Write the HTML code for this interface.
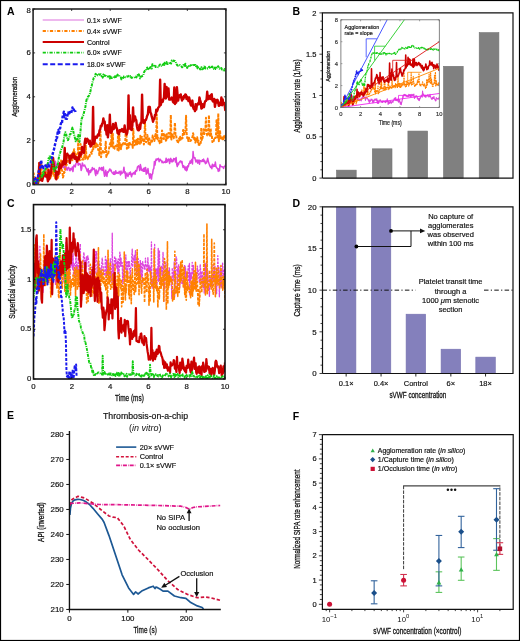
<!DOCTYPE html>
<html><head><meta charset="utf-8"><style>
html,body{margin:0;padding:0;background:#fff;}
body{width:520px;height:641px;overflow:hidden;}
svg{display:block;font-family:"Liberation Sans", sans-serif;will-change:transform;}
</style></head><body>
<svg width="520" height="641" viewBox="0 0 520 641" font-family='"Liberation Sans", sans-serif'>
<rect x="0.00" y="0.00" width="520.00" height="641.00" fill="#ffffff"/>
<defs><clipPath id="clipA"><rect x="33.1" y="9.0" width="192.80" height="175.60"/></clipPath><clipPath id="clipC"><rect x="33.5" y="204.6" width="191.50" height="174.40"/></clipPath><clipPath id="clipI"><rect x="340.9" y="19.8" width="98.40" height="87.70"/></clipPath></defs>
<text x="7.00" y="14.70" font-size="10.5" text-anchor="start" fill="#000" font-weight="bold">A</text>
<g clip-path="url(#clipA)">
<polyline points="33.10,179.59 33.69,179.35 34.27,179.47 34.86,182.05 35.44,178.30 36.03,177.71 36.62,180.98 37.20,177.58 37.79,178.81 38.37,178.16 38.96,179.52 39.55,179.70 40.13,179.91 40.72,178.32 41.30,177.73 41.89,176.44 42.48,176.56 43.06,175.86 43.65,176.52 44.23,176.83 44.82,175.49 45.41,174.82 45.99,170.74 46.58,171.74 47.16,177.36 47.75,175.14 48.34,171.98 48.92,172.69 49.51,171.37 50.09,170.10 50.68,166.94 51.27,170.81 51.85,168.77 52.44,162.25 53.02,163.57 53.61,163.95 54.20,164.09 54.78,165.58 55.37,161.28 55.95,163.66 56.54,167.17 57.13,164.78 57.71,165.26 58.30,168.44 58.88,168.36 59.47,166.49 60.06,167.00 60.64,168.76 61.23,166.00 61.81,163.79 62.40,165.32 62.99,167.52 63.57,165.13 64.16,167.97 64.74,165.87 65.33,169.73 65.92,166.02 66.50,169.03 67.09,170.28 67.68,168.16 68.26,167.35 68.85,167.66 69.43,170.12 70.02,170.72 70.61,168.50 71.19,169.77 71.78,168.78 72.36,166.91 72.95,171.53 73.54,166.88 74.12,165.09 74.71,166.03 75.29,166.90 75.88,163.75 76.47,162.50 77.05,160.20 77.64,160.97 78.22,165.23 78.81,163.51 79.40,164.18 79.98,163.73 80.57,165.45 81.15,170.49 81.74,168.54 82.33,162.96 82.91,164.56 83.50,166.02 84.08,165.59 84.67,165.10 85.26,166.74 85.84,167.76 86.43,168.93 87.01,170.95 87.60,171.71 88.19,168.66 88.77,174.95 89.36,170.94 89.94,170.81 90.53,172.60 91.12,169.62 91.70,170.78 92.29,167.52 92.87,169.52 93.46,168.81 94.05,168.39 94.63,169.42 95.22,173.51 95.80,175.46 96.39,169.91 96.98,173.12 97.56,173.72 98.15,171.29 98.73,170.46 99.32,167.55 99.91,168.84 100.49,168.31 101.08,169.75 101.66,167.55 102.25,170.56 102.84,168.41 103.42,166.98 104.01,173.09 104.59,176.28 105.18,172.85 105.77,170.35 106.35,175.53 106.94,176.35 107.52,171.85 108.11,172.39 108.70,171.40 109.28,169.93 109.87,168.93 110.45,170.68 111.04,170.00 111.63,171.77 112.21,172.94 112.80,173.03 113.38,174.30 113.97,171.82 114.56,174.37 115.14,174.11 115.73,170.65 116.31,173.18 116.90,173.05 117.49,172.43 118.07,173.46 118.66,172.91 119.24,171.37 119.83,172.15 120.42,174.96 121.00,171.08 121.59,173.65 122.17,173.25 122.76,172.71 123.35,171.09 123.93,167.15 124.52,172.97 125.10,171.59 125.69,178.30 126.28,174.50 126.86,172.97 127.45,175.77 128.03,176.37 128.62,174.68 129.21,172.79 129.79,174.24 130.38,172.03 130.97,174.79 131.55,176.74 132.14,173.67 132.72,174.40 133.31,172.85 133.90,173.57 134.48,171.96 135.07,174.37 135.65,170.50 136.24,171.11 136.83,170.74 137.41,167.12 138.00,166.60 138.58,165.79 139.17,167.25 139.76,170.50 140.34,164.48 140.93,166.89 141.51,170.21 142.10,170.58 142.69,169.27 143.27,171.30 143.86,168.14 144.44,171.25 145.03,167.78 145.62,167.54 146.20,174.16 146.79,170.29 147.37,173.01 147.96,168.50 148.55,172.94 149.13,175.09 149.72,178.15 150.30,173.87 150.89,174.44 151.48,179.03 152.06,174.50 152.65,173.55 153.23,169.23 153.82,168.69 154.41,161.42 154.99,165.06 155.58,160.85 156.16,158.99 156.75,160.27 157.34,158.93 157.92,159.22 158.51,158.32 159.09,161.72 159.68,159.84 160.27,159.27 160.85,160.37 161.44,161.00 162.02,162.62 162.61,161.22 163.20,162.70 163.78,162.46 164.37,162.23 164.95,161.60 165.54,162.56 166.13,158.18 166.71,162.20 167.30,161.72 167.88,159.55 168.47,158.94 169.06,160.61 169.64,163.50 170.23,158.77 170.81,158.38 171.40,161.84 171.99,159.87 172.57,161.76 173.16,161.21 173.74,158.41 174.33,159.46 174.92,158.82 175.50,162.00 176.09,157.57 176.67,164.13 177.26,166.51 177.85,163.28 178.43,164.72 179.02,162.59 179.60,162.04 180.19,161.06 180.78,161.10 181.36,162.64 181.95,161.42 182.53,165.24 183.12,167.50 183.71,165.76 184.29,166.92 184.88,169.11 185.46,170.00 186.05,166.63 186.64,170.79 187.22,169.59 187.81,165.68 188.39,166.73 188.98,163.50 189.57,163.45 190.15,161.05 190.74,163.13 191.32,160.65 191.91,159.26 192.50,163.90 193.08,151.48 193.67,157.28 194.26,157.87 194.84,157.55 195.43,159.95 196.01,161.93 196.60,160.16 197.19,159.94 197.77,163.19 198.36,162.04 198.94,159.94 199.53,164.25 200.12,160.62 200.70,160.76 201.29,161.23 201.87,161.60 202.46,159.83 203.05,161.22 203.63,159.10 204.22,161.88 204.80,160.94 205.39,163.68 205.98,162.32 206.56,162.94 207.15,160.33 207.73,158.27 208.32,161.37 208.91,163.19 209.49,164.85 210.08,166.29 210.66,167.40 211.25,166.29 211.84,168.69 212.42,164.17 213.01,166.54 213.59,166.60 214.18,164.69 214.77,166.32 215.35,162.05 215.94,166.42 216.52,167.59 217.11,168.08 217.70,168.94 218.28,171.38 218.87,168.82 219.45,170.85 220.04,164.68 220.63,166.57 221.21,166.58 221.80,166.73 222.38,166.69 222.97,167.28 223.56,168.42 224.14,166.56 224.73,166.18 225.31,166.27 225.90,163.10" fill="none" stroke="#dd44dd" stroke-width="1.5" stroke-linejoin="round"/>
<polyline points="33.10,183.36 33.69,173.34 34.27,183.45 34.86,184.60 35.44,178.35 36.03,177.75 36.62,179.67 37.20,177.74 37.79,176.86 38.37,178.91 38.96,163.07 39.55,179.58 40.13,179.06 40.72,179.99 41.30,162.67 41.89,178.33 42.48,174.35 43.06,174.13 43.65,173.71 44.23,175.48 44.82,171.43 45.41,174.21 45.99,173.88 46.58,173.58 47.16,164.96 47.75,171.62 48.34,169.35 48.92,177.19 49.51,178.46 50.09,179.41 50.68,174.89 51.27,176.54 51.85,160.03 52.44,162.01 53.02,175.02 53.61,163.87 54.20,176.02 54.78,175.06 55.37,179.63 55.95,178.96 56.54,175.76 57.13,174.47 57.71,178.19 58.30,176.66 58.88,174.12 59.47,170.69 60.06,173.08 60.64,168.98 61.23,159.45 61.81,170.35 62.40,171.21 62.99,177.55 63.57,175.48 64.16,171.91 64.74,172.04 65.33,167.47 65.92,162.99 66.50,165.21 67.09,162.88 67.68,162.17 68.26,157.29 68.85,157.46 69.43,157.37 70.02,156.25 70.61,155.28 71.19,159.48 71.78,159.76 72.36,160.15 72.95,152.18 73.54,153.02 74.12,149.23 74.71,152.78 75.29,155.65 75.88,154.24 76.47,155.51 77.05,161.70 77.64,161.23 78.22,140.38 78.81,160.35 79.40,159.80 79.98,160.23 80.57,144.12 81.15,156.58 81.74,159.43 82.33,159.46 82.91,158.83 83.50,159.51 84.08,157.63 84.67,155.10 85.26,158.64 85.84,145.60 86.43,157.52 87.01,157.83 87.60,159.11 88.19,157.61 88.77,156.54 89.36,157.37 89.94,154.43 90.53,153.23 91.12,152.27 91.70,153.74 92.29,151.12 92.87,147.30 93.46,148.96 94.05,147.43 94.63,142.15 95.22,147.17 95.80,147.19 96.39,143.43 96.98,146.61 97.56,143.79 98.15,149.94 98.73,147.90 99.32,155.15 99.91,148.86 100.49,131.52 101.08,157.18 101.66,151.22 102.25,151.76 102.84,150.94 103.42,153.75 104.01,151.87 104.59,151.95 105.18,150.80 105.77,141.68 106.35,157.04 106.94,154.68 107.52,153.92 108.11,154.70 108.70,150.50 109.28,147.38 109.87,144.41 110.45,142.70 111.04,147.30 111.63,129.06 112.21,146.19 112.80,133.68 113.38,147.69 113.97,145.90 114.56,148.66 115.14,146.64 115.73,145.85 116.31,146.43 116.90,144.54 117.49,149.85 118.07,132.94 118.66,150.39 119.24,130.54 119.83,148.38 120.42,144.45 121.00,149.22 121.59,144.64 122.17,145.67 122.76,144.07 123.35,143.01 123.93,144.47 124.52,143.99 125.10,143.93 125.69,132.72 126.28,129.56 126.86,148.71 127.45,145.46 128.03,143.73 128.62,147.71 129.21,141.76 129.79,143.08 130.38,144.38 130.97,143.55 131.55,143.51 132.14,144.37 132.72,147.85 133.31,129.08 133.90,142.86 134.48,145.19 135.07,140.71 135.65,140.62 136.24,145.43 136.83,139.71 137.41,144.14 138.00,138.76 138.58,140.88 139.17,144.75 139.76,143.97 140.34,135.78 140.93,143.55 141.51,137.25 142.10,137.05 142.69,139.95 143.27,138.07 143.86,144.43 144.44,137.76 145.03,122.29 145.62,141.89 146.20,142.17 146.79,138.32 147.37,135.03 147.96,139.91 148.55,143.73 149.13,136.96 149.72,145.70 150.30,142.91 150.89,143.38 151.48,139.55 152.06,141.65 152.65,135.60 153.23,137.61 153.82,139.99 154.41,140.90 154.99,136.56 155.58,134.01 156.16,137.95 156.75,114.36 157.34,138.96 157.92,137.69 158.51,140.70 159.09,140.39 159.68,143.24 160.27,138.71 160.85,137.35 161.44,142.13 162.02,130.55 162.61,133.76 163.20,136.63 163.78,138.98 164.37,133.70 164.95,133.70 165.54,138.40 166.13,141.70 166.71,134.35 167.30,138.64 167.88,139.35 168.47,132.88 169.06,133.71 169.64,134.44 170.23,137.19 170.81,114.95 171.40,139.58 171.99,133.85 172.57,134.90 173.16,137.20 173.74,138.20 174.33,132.63 174.92,122.74 175.50,134.68 176.09,134.51 176.67,139.82 177.26,140.55 177.85,143.31 178.43,141.28 179.02,138.45 179.60,140.31 180.19,136.73 180.78,139.53 181.36,136.55 181.95,137.08 182.53,138.43 183.12,129.93 183.71,130.35 184.29,134.31 184.88,133.60 185.46,132.48 186.05,115.71 186.64,133.53 187.22,138.11 187.81,137.45 188.39,140.97 188.98,137.80 189.57,140.80 190.15,141.05 190.74,140.89 191.32,139.79 191.91,138.32 192.50,136.90 193.08,133.30 193.67,136.01 194.26,139.28 194.84,137.86 195.43,142.62 196.01,139.13 196.60,140.19 197.19,137.17 197.77,142.02 198.36,140.62 198.94,146.21 199.53,144.16 200.12,143.31 200.70,144.17 201.29,127.82 201.87,140.00 202.46,138.27 203.05,135.26 203.63,129.36 204.22,134.08 204.80,127.94 205.39,130.27 205.98,117.83 206.56,133.04 207.15,135.36 207.73,135.19 208.32,135.64 208.91,115.17 209.49,134.26 210.08,136.84 210.66,128.44 211.25,136.07 211.84,135.74 212.42,142.06 213.01,141.87 213.59,142.48 214.18,137.53 214.77,138.07 215.35,138.07 215.94,136.81 216.52,120.37 217.11,124.98 217.70,138.71 218.28,113.39 218.87,141.24 219.45,136.00 220.04,131.18 220.63,139.28 221.21,136.57 221.80,136.29 222.38,139.34 222.97,137.19 223.56,140.09 224.14,135.02 224.73,138.24 225.31,136.17 225.90,134.82" fill="none" stroke="#ff8000" stroke-width="2.0" stroke-dasharray="3 1.2" stroke-linejoin="round"/>
<polyline points="33.10,177.60 33.74,184.60 34.39,182.34 35.03,184.60 35.68,184.60 36.32,184.60 36.97,184.60 37.61,183.74 38.26,182.00 38.90,171.22 39.55,162.87 40.19,180.11 40.84,178.87 41.48,179.15 42.13,180.84 42.77,178.51 43.42,175.58 44.06,174.79 44.71,172.46 45.35,175.61 46.00,176.42 46.64,175.27 47.29,177.40 47.93,181.30 48.58,170.29 49.22,179.23 49.87,175.46 50.51,175.19 51.15,171.58 51.80,164.19 52.44,166.33 53.09,157.90 53.73,164.45 54.38,167.35 55.02,170.49 55.67,172.32 56.31,179.37 56.96,171.81 57.60,172.33 58.25,174.63 58.89,170.21 59.54,163.32 60.18,167.46 60.83,167.96 61.47,165.97 62.12,165.44 62.76,161.50 63.41,164.53 64.05,163.68 64.70,148.00 65.34,164.02 65.99,162.90 66.63,155.24 67.28,153.68 67.92,155.13 68.56,155.50 69.21,155.94 69.85,162.97 70.50,158.66 71.14,155.78 71.79,158.07 72.43,153.99 73.08,156.74 73.72,153.51 74.37,158.29 75.01,158.90 75.66,156.54 76.30,157.69 76.95,161.61 77.59,157.97 78.24,159.26 78.88,159.09 79.53,153.14 80.17,155.93 80.82,153.66 81.46,154.17 82.11,147.03 82.75,150.16 83.40,150.86 84.04,152.95 84.69,142.93 85.33,138.73 85.97,142.91 86.62,139.72 87.26,138.77 87.91,139.94 88.55,141.66 89.20,143.83 89.84,140.78 90.49,146.53 91.13,146.09 91.78,144.84 92.42,143.21 93.07,106.93 93.71,143.83 94.36,143.16 95.00,138.81 95.65,136.70 96.29,137.70 96.94,137.67 97.58,135.27 98.23,134.19 98.87,135.37 99.52,130.33 100.16,129.64 100.81,125.72 101.45,126.39 102.10,123.92 102.74,122.75 103.38,118.45 104.03,122.52 104.67,121.54 105.32,130.18 105.96,128.54 106.61,134.56 107.25,125.24 107.90,137.41 108.54,131.94 109.19,131.24 109.83,114.71 110.48,132.49 111.12,132.84 111.77,131.73 112.41,128.40 113.06,124.06 113.70,128.96 114.35,127.39 114.99,127.59 115.64,122.92 116.28,126.99 116.93,128.40 117.57,132.99 118.22,132.33 118.86,134.21 119.51,130.42 120.15,130.06 120.79,131.33 121.44,130.54 122.08,129.06 122.73,129.82 123.37,131.78 124.02,131.09 124.66,125.49 125.31,132.34 125.95,132.07 126.60,134.55 127.24,132.83 127.89,128.00 128.53,95.35 129.18,128.52 129.82,115.12 130.47,128.62 131.11,129.64 131.76,129.95 132.40,125.08 133.05,107.42 133.69,121.44 134.34,118.85 134.98,116.38 135.63,119.32 136.27,120.13 136.92,126.22 137.56,129.43 138.21,130.22 138.85,130.33 139.49,124.64 140.14,128.91 140.78,122.70 141.43,123.27 142.07,94.63 142.72,120.13 143.36,120.26 144.01,123.06 144.65,122.55 145.30,120.11 145.94,119.81 146.59,117.83 147.23,115.55 147.88,114.32 148.52,106.89 149.17,107.16 149.81,106.91 150.46,112.53 151.10,113.69 151.75,116.65 152.39,118.79 153.04,121.78 153.68,119.25 154.33,119.16 154.97,114.85 155.62,115.46 156.26,109.63 156.90,111.48 157.55,110.05 158.19,107.71 158.84,107.01 159.48,106.34 160.13,79.72 160.77,104.94 161.42,102.14 162.06,100.19 162.71,101.78 163.35,98.94 164.00,97.67 164.64,84.04 165.29,94.99 165.93,98.43 166.58,87.05 167.22,96.01 167.87,96.47 168.51,88.55 169.16,99.57 169.80,98.54 170.45,99.59 171.09,98.99 171.74,97.56 172.38,99.26 173.03,101.98 173.67,102.61 174.31,87.53 174.96,103.97 175.60,101.10 176.25,102.56 176.89,87.18 177.54,94.26 178.18,100.64 178.83,96.01 179.47,95.28 180.12,96.96 180.76,94.51 181.41,98.11 182.05,100.49 182.70,97.54 183.34,98.89 183.99,96.08 184.63,97.31 185.28,94.44 185.92,94.87 186.57,99.04 187.21,96.68 187.86,99.16 188.50,100.99 189.15,97.43 189.79,100.30 190.44,103.80 191.08,105.55 191.72,103.54 192.37,100.58 193.01,106.80 193.66,108.89 194.30,109.12 194.95,111.03 195.59,104.23 196.24,109.49 196.88,105.41 197.53,104.24 198.17,103.21 198.82,104.33 199.46,97.41 200.11,100.09 200.75,102.02 201.40,108.67 202.04,108.17 202.69,104.19 203.33,105.58 203.98,107.17 204.62,102.99 205.27,101.11 205.91,100.92 206.56,99.44 207.20,91.82 207.85,99.23 208.49,98.74 209.13,95.93 209.78,98.52 210.42,99.06 211.07,94.95 211.71,94.16 212.36,100.36 213.00,101.47 213.65,100.99 214.29,98.89 214.94,106.88 215.58,102.88 216.23,100.05 216.87,102.47 217.52,99.84 218.16,101.99 218.81,105.87 219.45,103.00 220.10,105.11 220.74,103.98 221.39,97.39 222.03,105.27 222.68,99.51 223.32,104.37 223.97,102.91 224.61,104.51 225.26,110.15 225.90,106.00" fill="none" stroke="#cc0000" stroke-width="2.4" stroke-linejoin="round"/>
<polyline points="33.10,181.63 33.74,181.26 34.39,179.68 35.03,181.01 35.68,182.70 36.32,181.41 36.97,181.67 37.61,180.41 38.26,181.32 38.90,179.43 39.55,178.15 40.19,176.82 40.84,176.25 41.48,175.66 42.13,176.59 42.77,172.27 43.42,174.58 44.06,171.05 44.71,171.26 45.35,169.45 46.00,168.15 46.64,166.80 47.29,164.93 47.93,162.83 48.58,158.31 49.22,158.84 49.87,155.12 50.51,157.33 51.15,158.34 51.80,161.25 52.44,161.89 53.09,164.60 53.73,169.93 54.38,171.07 55.02,170.03 55.67,168.66 56.31,166.88 56.96,167.55 57.60,165.35 58.25,161.26 58.89,157.53 59.54,154.46 60.18,152.75 60.83,150.42 61.47,148.70 62.12,147.57 62.76,145.09 63.41,143.22 64.05,138.03 64.70,134.40 65.34,132.18 65.99,133.06 66.63,136.59 67.28,138.64 67.92,140.16 68.56,139.09 69.21,137.85 69.85,134.32 70.50,134.26 71.14,131.78 71.79,129.68 72.43,127.59 73.08,129.51 73.72,133.68 74.37,135.55 75.01,138.18 75.66,141.35 76.30,139.71 76.95,139.77 77.59,136.98 78.24,134.94 78.88,140.44 79.53,141.88 80.17,134.07 80.82,127.55 81.46,119.30 82.11,118.02 82.75,115.69 83.40,114.98 84.04,112.17 84.69,109.67 85.33,107.02 85.97,103.05 86.62,99.55 87.26,99.97 87.91,96.75 88.55,96.42 89.20,95.14 89.84,93.68 90.49,91.00 91.13,87.40 91.78,85.66 92.42,82.42 93.07,80.31 93.71,77.91 94.36,77.04 95.00,76.41 95.65,73.85 96.29,74.66 96.94,75.91 97.58,75.37 98.23,75.53 98.87,74.30 99.52,74.76 100.16,74.38 100.81,74.25 101.45,76.03 102.10,75.64 102.74,77.65 103.38,74.60 104.03,75.97 104.67,75.29 105.32,75.89 105.96,76.01 106.61,76.72 107.25,76.55 107.90,77.06 108.54,77.57 109.19,76.05 109.83,78.53 110.48,76.40 111.12,77.78 111.77,78.01 112.41,77.21 113.06,77.23 113.70,78.22 114.35,77.56 114.99,76.98 115.64,75.29 116.28,77.07 116.93,76.19 117.57,74.64 118.22,75.26 118.86,74.85 119.51,76.31 120.15,76.78 120.79,77.26 121.44,79.34 122.08,77.43 122.73,76.62 123.37,77.87 124.02,76.32 124.66,76.41 125.31,77.23 125.95,77.06 126.60,76.48 127.24,76.58 127.89,76.63 128.53,75.87 129.18,75.39 129.82,75.31 130.47,77.33 131.11,77.04 131.76,77.89 132.40,77.67 133.05,77.81 133.69,77.34 134.34,77.35 134.98,76.53 135.63,76.50 136.27,77.44 136.92,76.21 137.56,74.96 138.21,75.75 138.85,74.40 139.49,76.37 140.14,78.37 140.78,77.12 141.43,76.33 142.07,76.33 142.72,75.78 143.36,75.30 144.01,72.22 144.65,71.14 145.30,70.11 145.94,70.28 146.59,68.39 147.23,67.62 147.88,70.17 148.52,68.97 149.17,69.30 149.81,68.13 150.46,67.10 151.10,67.74 151.75,68.53 152.39,64.18 153.04,64.84 153.68,65.79 154.33,66.58 154.97,65.82 155.62,67.02 156.26,66.55 156.90,66.74 157.55,66.99 158.19,67.15 158.84,67.07 159.48,65.11 160.13,64.47 160.77,65.10 161.42,65.59 162.06,66.26 162.71,64.87 163.35,64.03 164.00,66.02 164.64,62.76 165.29,64.79 165.93,63.28 166.58,62.09 167.22,63.97 167.87,64.09 168.51,63.60 169.16,63.19 169.80,64.20 170.45,62.99 171.09,63.59 171.74,60.59 172.38,61.07 173.03,61.17 173.67,60.49 174.31,60.91 174.96,60.94 175.60,61.87 176.25,63.84 176.89,64.77 177.54,65.42 178.18,65.57 178.83,65.06 179.47,64.93 180.12,65.21 180.76,65.54 181.41,66.29 182.05,67.29 182.70,66.60 183.34,65.07 183.99,65.13 184.63,66.02 185.28,63.78 185.92,66.10 186.57,65.98 187.21,67.85 187.86,65.72 188.50,65.98 189.15,64.95 189.79,65.80 190.44,65.51 191.08,65.21 191.72,64.04 192.37,64.83 193.01,66.02 193.66,64.92 194.30,65.06 194.95,64.94 195.59,64.95 196.24,67.06 196.88,65.95 197.53,68.36 198.17,67.32 198.82,67.84 199.46,67.67 200.11,69.27 200.75,69.37 201.40,67.20 202.04,67.86 202.69,69.22 203.33,68.22 203.98,67.88 204.62,65.62 205.27,68.49 205.91,68.29 206.56,68.81 207.20,68.74 207.85,68.35 208.49,68.30 209.13,66.69 209.78,67.66 210.42,66.73 211.07,66.68 211.71,68.19 212.36,66.62 213.00,68.84 213.65,68.97 214.29,69.36 214.94,67.52 215.58,68.99 216.23,68.50 216.87,67.51 217.52,67.88 218.16,66.18 218.81,67.42 219.45,68.65 220.10,68.42 220.74,68.93 221.39,68.05 222.03,69.57 222.68,69.63 223.32,70.37 223.97,70.37 224.61,69.01 225.26,70.76 225.90,67.85" fill="none" stroke="#11cc11" stroke-width="2.0" stroke-dasharray="3 1 1 1" stroke-linejoin="round"/>
<polyline points="33.10,179.32 33.71,180.28 34.33,177.45 34.94,177.64 35.56,178.72 36.17,183.12 36.79,183.90 37.40,181.11 38.02,176.54 38.63,171.98 39.25,170.20 39.86,169.22 40.48,166.49 41.09,160.18 41.71,164.16 42.32,168.50 42.94,166.80 43.55,168.36 44.17,166.74 44.78,166.09 45.39,166.10 46.01,164.40 46.62,166.51 47.24,167.30 47.85,165.33 48.47,164.40 49.08,167.92 49.70,164.26 50.31,164.11 50.93,160.90 51.54,160.27 52.16,156.02 52.77,153.67 53.39,150.78 54.00,149.39 54.62,146.30 55.23,143.61 55.84,141.25 56.46,137.01 57.07,137.87 57.69,132.08 58.30,130.19 58.92,134.11 59.53,128.70 60.15,128.38 60.76,124.13 61.38,122.13 61.99,123.12 62.61,116.66 63.22,114.85 63.84,111.71 64.45,116.71 65.07,114.22 65.68,118.72 66.30,118.90 66.91,118.74 67.52,114.83 68.14,115.84 68.75,111.24 69.37,113.31 69.98,112.13 70.60,111.74 71.21,113.07 71.83,110.50 72.44,107.43 73.06,110.34 73.67,109.30 74.29,110.35 74.90,109.42 75.52,112.06" fill="none" stroke="#1a1aee" stroke-width="2.4" stroke-dasharray="3 1.5" stroke-linejoin="round"/>
</g>
<rect x="33.1" y="9.0" width="192.80" height="175.60" fill="none" stroke="#333" stroke-width="1.7"/>
<line x1="33.10" y1="184.60" x2="35.10" y2="184.60" stroke="#111" stroke-width="0.8" stroke-linecap="butt"/>
<line x1="225.90" y1="184.60" x2="223.90" y2="184.60" stroke="#111" stroke-width="0.8" stroke-linecap="butt"/>
<text x="30.80" y="186.90" font-size="7.8" text-anchor="end" fill="#111" stroke="#111" stroke-width="0.18">0</text>
<line x1="33.10" y1="140.70" x2="35.10" y2="140.70" stroke="#111" stroke-width="0.8" stroke-linecap="butt"/>
<line x1="225.90" y1="140.70" x2="223.90" y2="140.70" stroke="#111" stroke-width="0.8" stroke-linecap="butt"/>
<text x="30.80" y="143.00" font-size="7.8" text-anchor="end" fill="#111" stroke="#111" stroke-width="0.18">2</text>
<line x1="33.10" y1="96.80" x2="35.10" y2="96.80" stroke="#111" stroke-width="0.8" stroke-linecap="butt"/>
<line x1="225.90" y1="96.80" x2="223.90" y2="96.80" stroke="#111" stroke-width="0.8" stroke-linecap="butt"/>
<text x="30.80" y="99.10" font-size="7.8" text-anchor="end" fill="#111" stroke="#111" stroke-width="0.18">4</text>
<line x1="33.10" y1="52.90" x2="35.10" y2="52.90" stroke="#111" stroke-width="0.8" stroke-linecap="butt"/>
<line x1="225.90" y1="52.90" x2="223.90" y2="52.90" stroke="#111" stroke-width="0.8" stroke-linecap="butt"/>
<text x="30.80" y="55.20" font-size="7.8" text-anchor="end" fill="#111" stroke="#111" stroke-width="0.18">6</text>
<line x1="33.10" y1="9.00" x2="35.10" y2="9.00" stroke="#111" stroke-width="0.8" stroke-linecap="butt"/>
<line x1="225.90" y1="9.00" x2="223.90" y2="9.00" stroke="#111" stroke-width="0.8" stroke-linecap="butt"/>
<text x="30.80" y="13.00" font-size="7.8" text-anchor="end" fill="#111" stroke="#111" stroke-width="0.18">8</text>
<line x1="33.10" y1="184.60" x2="33.10" y2="182.60" stroke="#111" stroke-width="0.8" stroke-linecap="butt"/>
<line x1="33.10" y1="9.00" x2="33.10" y2="11.00" stroke="#111" stroke-width="0.8" stroke-linecap="butt"/>
<text x="33.10" y="193.60" font-size="7.8" text-anchor="middle" fill="#111" stroke="#111" stroke-width="0.18">0</text>
<line x1="71.66" y1="184.60" x2="71.66" y2="182.60" stroke="#111" stroke-width="0.8" stroke-linecap="butt"/>
<line x1="71.66" y1="9.00" x2="71.66" y2="11.00" stroke="#111" stroke-width="0.8" stroke-linecap="butt"/>
<text x="71.66" y="193.60" font-size="7.8" text-anchor="middle" fill="#111" stroke="#111" stroke-width="0.18">2</text>
<line x1="110.22" y1="184.60" x2="110.22" y2="182.60" stroke="#111" stroke-width="0.8" stroke-linecap="butt"/>
<line x1="110.22" y1="9.00" x2="110.22" y2="11.00" stroke="#111" stroke-width="0.8" stroke-linecap="butt"/>
<text x="110.22" y="193.60" font-size="7.8" text-anchor="middle" fill="#111" stroke="#111" stroke-width="0.18">4</text>
<line x1="148.78" y1="184.60" x2="148.78" y2="182.60" stroke="#111" stroke-width="0.8" stroke-linecap="butt"/>
<line x1="148.78" y1="9.00" x2="148.78" y2="11.00" stroke="#111" stroke-width="0.8" stroke-linecap="butt"/>
<text x="148.78" y="193.60" font-size="7.8" text-anchor="middle" fill="#111" stroke="#111" stroke-width="0.18">6</text>
<line x1="187.34" y1="184.60" x2="187.34" y2="182.60" stroke="#111" stroke-width="0.8" stroke-linecap="butt"/>
<line x1="187.34" y1="9.00" x2="187.34" y2="11.00" stroke="#111" stroke-width="0.8" stroke-linecap="butt"/>
<text x="187.34" y="193.60" font-size="7.8" text-anchor="middle" fill="#111" stroke="#111" stroke-width="0.18">8</text>
<line x1="225.90" y1="184.60" x2="225.90" y2="182.60" stroke="#111" stroke-width="0.8" stroke-linecap="butt"/>
<line x1="225.90" y1="9.00" x2="225.90" y2="11.00" stroke="#111" stroke-width="0.8" stroke-linecap="butt"/>
<text x="225.90" y="193.60" font-size="7.8" text-anchor="middle" fill="#111" stroke="#111" stroke-width="0.18">10</text>
<text transform="translate(17.00,96.85) rotate(-90)" x="0" y="0" font-size="8.1" text-anchor="middle" fill="#111" stroke="#111" stroke-width="0.28" textLength="39.90" lengthAdjust="spacingAndGlyphs">Agglomeration</text>
<line x1="42.70" y1="20.00" x2="84.00" y2="20.00" stroke="#e8a0e8" stroke-width="1.4" stroke-linecap="butt"/>
<text x="86.90" y="22.50" font-size="7.0" text-anchor="start" fill="#111" stroke="#111" stroke-width="0.18">0.1× sVWF</text>
<line x1="42.70" y1="31.00" x2="84.00" y2="31.00" stroke="#ff8000" stroke-width="1.8" stroke-dasharray="3.2 1.6 0.8 1.6" stroke-linecap="butt"/>
<text x="86.90" y="33.50" font-size="7.0" text-anchor="start" fill="#111" stroke="#111" stroke-width="0.18">0.4× sVWF</text>
<line x1="42.70" y1="42.00" x2="84.00" y2="42.00" stroke="#cc0000" stroke-width="1.9" stroke-linecap="butt"/>
<text x="86.90" y="44.50" font-size="7.0" text-anchor="start" fill="#111" stroke="#111" stroke-width="0.18">Control</text>
<line x1="42.70" y1="52.70" x2="84.00" y2="52.70" stroke="#11cc11" stroke-width="1.8" stroke-dasharray="3.2 1.4 0.8 1.4" stroke-linecap="butt"/>
<text x="86.90" y="55.20" font-size="7.0" text-anchor="start" fill="#111" stroke="#111" stroke-width="0.18">6.0× sVWF</text>
<line x1="42.70" y1="64.30" x2="84.00" y2="64.30" stroke="#1a1aee" stroke-width="2.0" stroke-dasharray="5 2.5" stroke-linecap="butt"/>
<text x="86.90" y="66.80" font-size="7.0" text-anchor="start" fill="#111" stroke="#111" stroke-width="0.18">18.0× sVWF</text>
<text x="292.60" y="15.00" font-size="10.5" text-anchor="start" fill="#000" font-weight="bold">B</text>
<rect x="336.50" y="170.14" width="19.70" height="7.96" fill="#808080" stroke="#737373" stroke-width="0.6"/>
<rect x="372.30" y="148.83" width="19.70" height="29.27" fill="#808080" stroke="#737373" stroke-width="0.6"/>
<rect x="407.90" y="131.07" width="19.70" height="47.03" fill="#808080" stroke="#737373" stroke-width="0.6"/>
<rect x="443.50" y="66.31" width="19.70" height="111.79" fill="#808080" stroke="#737373" stroke-width="0.6"/>
<rect x="479.20" y="32.61" width="19.70" height="145.49" fill="#808080" stroke="#737373" stroke-width="0.6"/>
<polyline points="322.4,178.1 513.0,178.1 513.0,12.9 322.4,12.9 322.4,178.1" fill="none" stroke="#111" stroke-width="1.2"/>
<line x1="319.40" y1="178.10" x2="322.40" y2="178.10" stroke="#111" stroke-width="0.8" stroke-linecap="butt"/>
<line x1="320.40" y1="169.84" x2="322.40" y2="169.84" stroke="#111" stroke-width="0.8" stroke-linecap="butt"/>
<line x1="320.40" y1="161.58" x2="322.40" y2="161.58" stroke="#111" stroke-width="0.8" stroke-linecap="butt"/>
<line x1="320.40" y1="153.32" x2="322.40" y2="153.32" stroke="#111" stroke-width="0.8" stroke-linecap="butt"/>
<line x1="320.40" y1="145.06" x2="322.40" y2="145.06" stroke="#111" stroke-width="0.8" stroke-linecap="butt"/>
<line x1="319.40" y1="136.80" x2="322.40" y2="136.80" stroke="#111" stroke-width="0.8" stroke-linecap="butt"/>
<line x1="320.40" y1="128.54" x2="322.40" y2="128.54" stroke="#111" stroke-width="0.8" stroke-linecap="butt"/>
<line x1="320.40" y1="120.28" x2="322.40" y2="120.28" stroke="#111" stroke-width="0.8" stroke-linecap="butt"/>
<line x1="320.40" y1="112.02" x2="322.40" y2="112.02" stroke="#111" stroke-width="0.8" stroke-linecap="butt"/>
<line x1="320.40" y1="103.76" x2="322.40" y2="103.76" stroke="#111" stroke-width="0.8" stroke-linecap="butt"/>
<line x1="319.40" y1="95.50" x2="322.40" y2="95.50" stroke="#111" stroke-width="0.8" stroke-linecap="butt"/>
<line x1="320.40" y1="87.24" x2="322.40" y2="87.24" stroke="#111" stroke-width="0.8" stroke-linecap="butt"/>
<line x1="320.40" y1="78.98" x2="322.40" y2="78.98" stroke="#111" stroke-width="0.8" stroke-linecap="butt"/>
<line x1="320.40" y1="70.72" x2="322.40" y2="70.72" stroke="#111" stroke-width="0.8" stroke-linecap="butt"/>
<line x1="320.40" y1="62.46" x2="322.40" y2="62.46" stroke="#111" stroke-width="0.8" stroke-linecap="butt"/>
<line x1="319.40" y1="54.20" x2="322.40" y2="54.20" stroke="#111" stroke-width="0.8" stroke-linecap="butt"/>
<line x1="320.40" y1="45.94" x2="322.40" y2="45.94" stroke="#111" stroke-width="0.8" stroke-linecap="butt"/>
<line x1="320.40" y1="37.68" x2="322.40" y2="37.68" stroke="#111" stroke-width="0.8" stroke-linecap="butt"/>
<line x1="320.40" y1="29.42" x2="322.40" y2="29.42" stroke="#111" stroke-width="0.8" stroke-linecap="butt"/>
<line x1="320.40" y1="21.16" x2="322.40" y2="21.16" stroke="#111" stroke-width="0.8" stroke-linecap="butt"/>
<line x1="319.40" y1="12.90" x2="322.40" y2="12.90" stroke="#111" stroke-width="0.8" stroke-linecap="butt"/>
<text x="316.40" y="180.70" font-size="7.5" text-anchor="end" fill="#111" stroke="#111" stroke-width="0.18">0</text>
<text x="316.40" y="139.40" font-size="7.5" text-anchor="end" fill="#111" stroke="#111" stroke-width="0.18">0.5</text>
<text x="316.40" y="98.10" font-size="7.5" text-anchor="end" fill="#111" stroke="#111" stroke-width="0.18">1</text>
<text x="316.40" y="56.80" font-size="7.5" text-anchor="end" fill="#111" stroke="#111" stroke-width="0.18">1.5</text>
<text x="316.40" y="15.50" font-size="7.5" text-anchor="end" fill="#111" stroke="#111" stroke-width="0.18">2</text>
<text transform="translate(300.30,96.00) rotate(-90)" x="0" y="0" font-size="8.8" text-anchor="middle" fill="#111" stroke="#111" stroke-width="0.28" textLength="73.20" lengthAdjust="spacingAndGlyphs">Agglomeration rate (1/ms)</text>
<rect x="340.90" y="19.80" width="98.40" height="87.70" fill="#ffffff"/>
<g clip-path="url(#clipI)">
<polyline points="340.90,105.00 341.20,104.88 341.50,104.94 341.80,106.22 342.10,104.36 342.40,104.06 342.69,105.69 342.99,104.00 343.29,104.61 343.59,104.29 343.89,104.96 344.19,105.05 344.49,105.16 344.79,104.36 345.09,104.07 345.39,103.43 345.69,103.49 345.98,103.13 346.28,103.46 346.58,103.62 346.88,102.95 347.18,102.61 347.48,100.58 347.78,101.08 348.08,103.88 348.38,102.78 348.68,101.20 348.98,101.55 349.27,100.89 349.57,100.26 349.87,98.68 350.17,100.61 350.47,99.59 350.77,96.34 351.07,97.00 351.37,97.19 351.67,97.26 351.97,98.00 352.27,95.85 352.56,97.04 352.86,98.79 353.16,97.60 353.46,97.84 353.76,99.43 354.06,99.39 354.36,98.45 354.66,98.71 354.96,99.59 355.26,98.21 355.56,97.11 355.85,97.87 356.15,98.97 356.45,97.78 356.75,99.20 357.05,98.15 357.35,100.07 357.65,98.22 357.95,99.72 358.25,100.35 358.55,99.29 358.85,98.89 359.14,99.04 359.44,100.27 359.74,100.57 360.04,99.46 360.34,100.09 360.64,99.60 360.94,98.67 361.24,100.97 361.54,98.65 361.84,97.76 362.14,98.23 362.43,98.66 362.73,97.09 363.03,96.46 363.33,95.32 363.63,95.70 363.93,97.83 364.23,96.97 364.53,97.30 364.83,97.07 365.13,97.94 365.43,100.45 365.72,99.48 366.02,96.69 366.32,97.49 366.62,98.22 366.92,98.01 367.22,97.76 367.52,98.58 367.82,99.09 368.12,99.67 368.42,100.69 368.72,101.06 369.01,99.54 369.31,102.68 369.61,100.68 369.91,100.61 370.21,101.51 370.51,100.02 370.81,100.60 371.11,98.97 371.41,99.97 371.71,99.61 372.01,99.41 372.30,99.92 372.60,101.96 372.90,102.94 373.20,100.16 373.50,101.77 373.80,102.07 374.10,100.85 374.40,100.44 374.70,98.99 375.00,99.63 375.30,99.36 375.59,100.08 375.89,98.99 376.19,100.49 376.49,99.41 376.79,98.70 377.09,101.75 377.39,103.35 377.69,101.63 377.99,100.38 378.29,102.97 378.59,103.38 378.88,101.13 379.18,101.40 379.48,100.91 379.78,100.17 380.08,99.67 380.38,100.55 380.68,100.21 380.98,101.09 381.28,101.67 381.58,101.72 381.88,102.36 382.17,101.12 382.47,102.39 382.77,102.26 383.07,100.53 383.37,101.80 383.67,101.73 383.97,101.42 384.27,101.94 384.57,101.66 384.87,100.89 385.17,101.28 385.46,102.68 385.76,100.75 386.06,102.03 386.36,101.83 386.66,101.56 386.96,100.75 387.26,98.79 387.56,101.69 387.86,101.00 388.16,104.35 388.46,102.46 388.75,101.69 389.05,103.09 389.35,103.39 389.65,102.55 389.95,101.60 390.25,102.32 390.55,101.22 390.85,102.60 391.15,103.58 391.45,102.04 391.74,102.41 392.04,101.63 392.34,101.99 392.64,101.19 392.94,102.39 393.24,100.46 393.54,100.76 393.84,100.58 394.14,98.77 394.44,98.51 394.74,98.10 395.03,98.83 395.33,100.46 395.63,97.45 395.93,98.66 396.23,100.31 396.53,100.50 396.83,99.84 397.13,100.86 397.43,99.28 397.73,100.83 398.03,99.10 398.32,98.98 398.62,102.28 398.92,100.36 399.22,101.71 399.52,99.46 399.82,101.68 400.12,102.75 400.42,104.28 400.72,102.14 401.02,102.43 401.32,104.72 401.61,102.45 401.91,101.98 402.21,99.82 402.51,99.55 402.81,95.92 403.11,97.74 403.41,95.64 403.71,94.71 404.01,95.35 404.31,94.68 404.61,94.82 404.90,94.37 405.20,96.07 405.50,95.13 405.80,94.85 406.10,95.40 406.40,95.71 406.70,96.52 407.00,95.82 407.30,96.56 407.60,96.44 407.90,96.33 408.19,96.01 408.49,96.49 408.79,94.31 409.09,96.31 409.39,96.07 409.69,94.99 409.99,94.68 410.29,95.52 410.59,96.96 410.89,94.60 411.19,94.40 411.48,96.13 411.78,95.15 412.08,96.09 412.38,95.82 412.68,94.42 412.98,94.94 413.28,94.63 413.58,96.21 413.88,94.00 414.18,97.28 414.48,98.46 414.77,96.85 415.07,97.57 415.37,96.51 415.67,96.23 415.97,95.74 416.27,95.76 416.57,96.53 416.87,95.92 417.17,97.83 417.47,98.96 417.77,98.09 418.06,98.67 418.36,99.76 418.66,100.21 418.96,98.52 419.26,100.61 419.56,100.00 419.86,98.05 420.16,98.57 420.46,96.96 420.76,96.94 421.06,95.74 421.35,96.78 421.65,95.54 421.95,94.84 422.25,97.16 422.55,90.96 422.85,93.86 423.15,94.15 423.45,93.99 423.75,95.19 424.05,96.18 424.35,95.29 424.64,95.18 424.94,96.81 425.24,96.23 425.54,95.18 425.84,97.34 426.14,95.52 426.44,95.59 426.74,95.83 427.04,96.01 427.34,95.13 427.64,95.82 427.93,94.76 428.23,96.15 428.53,95.68 428.83,97.05 429.13,96.37 429.43,96.68 429.73,95.38 430.03,94.35 430.33,95.90 430.63,96.80 430.93,97.64 431.22,98.35 431.52,98.91 431.82,98.35 432.12,99.55 432.42,97.29 432.72,98.48 433.02,98.51 433.32,97.56 433.62,98.37 433.92,96.24 434.22,98.42 434.51,99.00 434.81,99.25 435.11,99.68 435.41,100.90 435.71,99.62 436.01,100.63 436.31,97.55 436.61,98.49 436.91,98.50 437.21,98.58 437.51,98.55 437.80,98.85 438.10,99.42 438.40,98.49 438.70,98.30 439.00,98.35 439.30,96.76" fill="none" stroke="#dd44dd" stroke-width="1.1" stroke-linejoin="round"/>
<polyline points="340.90,106.88 341.20,101.88 341.50,106.93 341.80,107.50 342.10,104.38 342.40,104.08 342.69,105.04 342.99,104.07 343.29,103.64 343.59,104.66 343.89,96.75 344.19,104.99 344.49,104.73 344.79,105.20 345.09,96.55 345.39,104.37 345.69,102.38 345.98,102.27 346.28,102.06 346.58,102.94 346.88,100.92 347.18,102.31 347.48,102.15 347.78,102.00 348.08,97.69 348.38,101.02 348.68,99.89 348.98,103.80 349.27,104.43 349.57,104.91 349.87,102.65 350.17,103.47 350.47,95.23 350.77,96.22 351.07,102.72 351.37,97.15 351.67,103.21 351.97,102.74 352.27,105.02 352.56,104.68 352.86,103.08 353.16,102.44 353.46,104.30 353.76,103.54 354.06,102.27 354.36,100.55 354.66,101.75 354.96,99.70 355.26,94.94 355.56,100.38 355.85,100.81 356.15,103.98 356.45,102.94 356.75,101.16 357.05,101.23 357.35,98.95 357.65,96.71 357.95,97.82 358.25,96.65 358.55,96.30 358.85,93.86 359.14,93.94 359.44,93.90 359.74,93.34 360.04,92.86 360.34,94.96 360.64,95.09 360.94,95.29 361.24,91.31 361.54,91.73 361.84,89.84 362.14,91.61 362.43,93.04 362.73,92.34 363.03,92.97 363.33,96.06 363.63,95.83 363.93,85.41 364.23,95.39 364.53,95.12 364.83,95.33 365.13,87.28 365.43,93.51 365.72,94.93 366.02,94.94 366.32,94.63 366.62,94.97 366.92,94.03 367.22,92.77 367.52,94.54 367.82,88.02 368.12,93.98 368.42,94.13 368.72,94.77 369.01,94.02 369.31,93.48 369.61,93.90 369.91,92.43 370.21,91.83 370.51,91.35 370.81,92.09 371.11,90.78 371.41,88.87 371.71,89.70 372.01,88.93 372.30,86.30 372.60,88.81 372.90,88.82 373.20,86.94 373.50,88.53 373.80,87.12 374.10,90.19 374.40,89.17 374.70,92.79 375.00,89.65 375.30,80.99 375.59,93.81 375.89,90.83 376.19,91.10 376.49,90.69 376.79,92.09 377.09,91.15 377.39,91.19 377.69,90.62 377.99,86.06 378.29,93.74 378.59,92.55 378.88,92.18 379.18,92.57 379.48,90.47 379.78,88.91 380.08,87.43 380.38,86.57 380.68,88.87 380.98,79.76 381.28,88.32 381.58,82.07 381.88,89.07 382.17,88.17 382.47,89.55 382.77,88.54 383.07,88.15 383.37,88.44 383.67,87.49 383.97,90.15 384.27,81.70 384.57,90.42 384.87,80.50 385.17,89.41 385.46,87.45 385.76,89.83 386.06,87.54 386.36,88.06 386.66,87.26 386.96,86.73 387.26,87.46 387.56,87.22 387.86,87.19 388.16,81.59 388.46,80.01 388.75,89.58 389.05,87.95 389.35,87.09 389.65,89.08 389.95,86.11 390.25,86.76 390.55,87.41 390.85,87.00 391.15,86.98 391.45,87.41 391.74,89.15 392.04,79.77 392.34,86.65 392.64,87.82 392.94,85.58 393.24,85.53 393.54,87.94 393.84,85.08 394.14,87.30 394.44,84.61 394.74,85.66 395.03,87.60 395.33,87.21 395.63,83.12 395.93,87.00 396.23,83.85 396.53,83.75 396.83,85.20 397.13,84.26 397.43,87.44 397.73,84.11 398.03,76.38 398.32,86.17 398.62,86.31 398.92,84.39 399.22,82.74 399.52,85.18 399.82,87.09 400.12,83.71 400.42,88.07 400.72,86.68 401.02,86.91 401.32,85.00 401.61,86.05 401.91,83.03 402.21,84.03 402.51,85.22 402.81,85.67 403.11,83.51 403.41,82.23 403.71,84.20 404.01,72.42 404.31,84.71 404.61,84.07 404.90,85.57 405.20,85.42 405.50,86.84 405.80,84.58 406.10,83.90 406.40,86.29 406.70,80.51 407.00,82.11 407.30,83.54 407.60,84.71 407.90,82.08 408.19,82.08 408.49,84.42 408.79,86.07 409.09,82.40 409.39,84.55 409.69,84.90 409.99,81.67 410.29,82.09 410.59,82.45 410.89,83.82 411.19,72.72 411.48,85.01 411.78,82.15 412.08,82.68 412.38,83.82 412.68,84.32 412.98,81.54 413.28,76.60 413.58,82.57 413.88,82.48 414.18,85.13 414.48,85.50 414.77,86.88 415.07,85.86 415.37,84.45 415.67,85.38 415.97,83.59 416.27,84.99 416.57,83.50 416.87,83.77 417.17,84.44 417.47,80.20 417.77,80.41 418.06,82.39 418.36,82.03 418.66,81.47 418.96,73.09 419.26,81.99 419.56,84.28 419.86,83.95 420.16,85.71 420.46,84.13 420.76,85.62 421.06,85.75 421.35,85.67 421.65,85.12 421.95,84.39 422.25,83.68 422.55,81.88 422.85,83.23 423.15,84.87 423.45,84.15 423.75,86.53 424.05,84.79 424.35,85.32 424.64,83.81 424.94,86.23 425.24,85.53 425.54,88.33 425.84,87.30 426.14,86.88 426.44,87.31 426.74,79.14 427.04,85.22 427.34,84.36 427.64,82.86 427.93,79.91 428.23,82.27 428.53,79.20 428.83,80.37 429.13,74.15 429.43,81.75 429.73,82.91 430.03,82.82 430.33,83.05 430.63,72.83 430.93,82.36 431.22,83.65 431.52,79.45 431.82,83.26 432.12,83.10 432.42,86.26 432.72,86.16 433.02,86.46 433.32,83.99 433.62,84.26 433.92,84.26 434.22,83.63 434.51,75.42 434.81,77.72 435.11,84.58 435.41,71.94 435.71,85.85 436.01,83.23 436.31,80.82 436.61,84.87 436.91,83.51 437.21,83.38 437.51,84.89 437.80,83.82 438.10,85.27 438.40,82.74 438.70,84.35 439.00,83.31 439.30,82.64" fill="none" stroke="#ff8000" stroke-width="1.2" stroke-dasharray="1.7999999999999998 0.72" stroke-linejoin="round"/>
<polyline points="340.90,104.01 341.23,107.50 341.56,106.37 341.89,107.50 342.22,107.50 342.55,107.50 342.87,107.50 343.20,107.07 343.53,106.20 343.86,100.82 344.19,96.65 344.52,105.26 344.85,104.64 345.18,104.78 345.51,105.62 345.84,104.46 346.17,102.99 346.49,102.60 346.82,101.44 347.15,103.01 347.48,103.41 347.81,102.84 348.14,103.91 348.47,105.85 348.80,100.36 349.13,104.82 349.46,102.94 349.79,102.80 350.11,101.00 350.44,97.31 350.77,98.38 351.10,94.17 351.43,97.44 351.76,98.88 352.09,100.45 352.42,101.37 352.75,104.89 353.08,101.11 353.41,101.37 353.73,102.52 354.06,100.31 354.39,96.87 354.72,98.94 355.05,99.19 355.38,98.20 355.71,97.93 356.04,95.96 356.37,97.48 356.70,97.05 357.03,89.22 357.35,97.22 357.68,96.66 358.01,92.84 358.34,92.06 358.67,92.78 359.00,92.97 359.33,93.19 359.66,96.70 359.99,94.55 360.32,93.11 360.65,94.25 360.97,92.21 361.30,93.59 361.63,91.97 361.96,94.36 362.29,94.66 362.62,93.49 362.95,94.06 363.28,96.02 363.61,94.20 363.94,94.84 364.27,94.76 364.59,91.79 364.92,93.18 365.25,92.05 365.58,92.30 365.91,88.74 366.24,90.30 366.57,90.65 366.90,91.69 367.23,86.69 367.56,84.59 367.89,86.68 368.22,85.09 368.54,84.61 368.87,85.20 369.20,86.05 369.53,87.14 369.86,85.62 370.19,88.49 370.52,88.27 370.85,87.64 371.18,86.83 371.51,68.71 371.84,87.14 372.16,86.80 372.49,84.63 372.82,83.58 373.15,84.08 373.48,84.06 373.81,82.86 374.14,82.33 374.47,82.91 374.80,80.39 375.13,80.05 375.46,78.09 375.78,78.43 376.11,77.20 376.44,76.61 376.77,74.46 377.10,76.50 377.43,76.01 377.76,80.32 378.09,79.50 378.42,82.51 378.75,77.85 379.08,83.93 379.40,81.20 379.73,80.85 380.06,72.59 380.39,81.47 380.72,81.65 381.05,81.10 381.38,79.43 381.71,77.26 382.04,79.71 382.37,78.93 382.70,79.03 383.02,76.70 383.35,78.73 383.68,79.43 384.01,81.73 384.34,81.40 384.67,82.34 385.00,80.44 385.33,80.26 385.66,80.90 385.99,80.50 386.32,79.76 386.64,80.14 386.97,81.12 387.30,80.78 387.63,77.98 387.96,81.40 388.29,81.26 388.62,82.50 388.95,81.64 389.28,79.23 389.61,62.93 389.94,79.49 390.26,72.80 390.59,79.54 390.92,80.05 391.25,80.21 391.58,77.78 391.91,68.95 392.24,75.96 392.57,74.66 392.90,73.43 393.23,74.90 393.56,75.30 393.88,78.34 394.21,79.94 394.54,80.34 394.87,80.40 395.20,77.55 395.53,79.69 395.86,76.58 396.19,76.87 396.52,62.57 396.85,75.30 397.18,75.37 397.50,76.76 397.83,76.51 398.16,75.29 398.49,75.14 398.82,74.15 399.15,73.01 399.48,72.40 399.81,68.69 400.14,68.83 400.47,68.70 400.80,71.51 401.12,72.09 401.45,73.56 401.78,74.63 402.11,76.13 402.44,74.86 402.77,74.82 403.10,72.66 403.43,72.97 403.76,70.06 404.09,70.98 404.42,70.27 404.74,69.10 405.07,68.75 405.40,68.42 405.73,55.12 406.06,67.71 406.39,66.32 406.72,65.34 407.05,66.14 407.38,64.72 407.71,64.09 408.04,57.28 408.36,62.75 408.69,64.47 409.02,58.78 409.35,63.25 409.68,63.49 410.01,59.53 410.34,65.03 410.67,64.52 411.00,65.04 411.33,64.75 411.66,64.03 411.98,64.88 412.31,66.24 412.64,66.55 412.97,59.02 413.30,67.23 413.63,65.80 413.96,66.53 414.29,58.85 414.62,62.38 414.95,65.57 415.28,63.26 415.61,62.89 415.93,63.73 416.26,62.51 416.59,64.30 416.92,65.49 417.25,64.02 417.58,64.69 417.91,63.29 418.24,63.91 418.57,62.47 418.90,62.69 419.23,64.77 419.55,63.59 419.88,64.83 420.21,65.74 420.54,63.97 420.87,65.40 421.20,67.15 421.53,68.02 421.86,67.02 422.19,65.54 422.52,68.64 422.85,69.69 423.17,69.80 423.50,70.76 423.83,67.36 424.16,69.99 424.49,67.95 424.82,67.37 425.15,66.85 425.48,67.41 425.81,63.95 426.14,65.30 426.47,66.26 426.79,69.58 427.12,69.33 427.45,67.34 427.78,68.04 428.11,68.83 428.44,66.74 428.77,65.80 429.10,65.71 429.43,64.97 429.76,61.16 430.09,64.86 430.41,64.62 430.74,63.21 431.07,64.51 431.40,64.78 431.73,62.72 432.06,62.33 432.39,65.43 432.72,65.98 433.05,65.74 433.38,64.69 433.71,68.68 434.03,66.69 434.36,65.27 434.69,66.48 435.02,65.17 435.35,66.24 435.68,68.18 436.01,66.75 436.34,67.80 436.67,67.24 437.00,63.95 437.33,67.88 437.65,65.01 437.98,67.43 438.31,66.70 438.64,67.50 438.97,70.32 439.30,68.25" fill="none" stroke="#cc0000" stroke-width="1.6" stroke-linejoin="round"/>
<polyline points="340.90,106.01 341.23,105.83 341.56,105.04 341.89,105.71 342.22,106.55 342.55,105.91 342.87,106.04 343.20,105.41 343.53,105.86 343.86,104.92 344.19,104.28 344.52,103.61 344.85,103.33 345.18,103.04 345.51,103.50 345.84,101.34 346.17,102.49 346.49,100.73 346.82,100.84 347.15,99.94 347.48,99.29 347.81,98.61 348.14,97.68 348.47,96.63 348.80,94.37 349.13,94.63 349.46,92.78 349.79,93.88 350.11,94.38 350.44,95.84 350.77,96.16 351.10,97.51 351.43,100.17 351.76,100.74 352.09,100.22 352.42,99.54 352.75,98.65 353.08,98.98 353.41,97.88 353.73,95.84 354.06,93.98 354.39,92.45 354.72,91.59 355.05,90.43 355.38,89.57 355.71,89.01 356.04,87.77 356.37,86.83 356.70,84.24 357.03,82.43 357.35,81.32 357.68,81.76 358.01,83.52 358.34,84.55 358.67,85.31 359.00,84.77 359.33,84.15 359.66,82.39 359.99,82.36 360.32,81.12 360.65,80.07 360.97,79.03 361.30,79.99 361.63,82.07 361.96,83.00 362.29,84.32 362.62,85.90 362.95,85.08 363.28,85.11 363.61,83.72 363.94,82.70 364.27,85.44 364.59,86.16 364.92,82.26 365.25,79.01 365.58,74.89 365.91,74.25 366.24,73.09 366.57,72.73 366.90,71.33 367.23,70.08 367.56,68.76 367.89,66.77 368.22,65.02 368.54,65.23 368.87,63.63 369.20,63.46 369.53,62.82 369.86,62.09 370.19,60.75 370.52,58.96 370.85,58.09 371.18,56.47 371.51,55.42 371.84,54.21 372.16,53.78 372.49,53.47 372.82,52.19 373.15,52.59 373.48,53.22 373.81,52.95 374.14,53.02 374.47,52.41 374.80,52.64 375.13,52.45 375.46,52.39 375.78,53.27 376.11,53.08 376.44,54.08 376.77,52.56 377.10,53.24 377.43,52.91 377.76,53.21 378.09,53.27 378.42,53.62 378.75,53.54 379.08,53.79 379.40,54.05 379.73,53.28 380.06,54.53 380.39,53.46 380.72,54.15 381.05,54.27 381.38,53.87 381.71,53.88 382.04,54.37 382.37,54.04 382.70,53.75 383.02,52.91 383.35,53.80 383.68,53.36 384.01,52.58 384.34,52.89 384.67,52.69 385.00,53.42 385.33,53.65 385.66,53.89 385.99,54.93 386.32,53.98 386.64,53.57 386.97,54.20 387.30,53.42 387.63,53.47 387.96,53.88 388.29,53.79 388.62,53.50 388.95,53.55 389.28,53.58 389.61,53.20 389.94,52.96 390.26,52.91 390.59,53.93 390.92,53.78 391.25,54.21 391.58,54.10 391.91,54.16 392.24,53.93 392.57,53.94 392.90,53.53 393.23,53.51 393.56,53.98 393.88,53.37 394.21,52.74 394.54,53.14 394.87,52.46 395.20,53.45 395.53,54.45 395.86,53.82 396.19,53.43 396.52,53.42 396.85,53.15 397.18,52.91 397.50,51.37 397.83,50.83 398.16,50.32 398.49,50.40 398.82,49.46 399.15,49.08 399.48,50.35 399.81,49.75 400.14,49.92 400.47,49.33 400.80,48.82 401.12,49.13 401.45,49.53 401.78,47.36 402.11,47.69 402.44,48.16 402.77,48.56 403.10,48.18 403.43,48.78 403.76,48.54 404.09,48.64 404.42,48.76 404.74,48.84 405.07,48.80 405.40,47.83 405.73,47.50 406.06,47.82 406.39,48.06 406.72,48.40 407.05,47.70 407.38,47.29 407.71,48.28 408.04,46.65 408.36,47.66 408.69,46.91 409.02,46.32 409.35,47.25 409.68,47.32 410.01,47.07 410.34,46.87 410.67,47.37 411.00,46.76 411.33,47.06 411.66,45.57 411.98,45.81 412.31,45.86 412.64,45.52 412.97,45.72 413.30,45.74 413.63,46.21 413.96,47.19 414.29,47.65 414.62,47.98 414.95,48.05 415.28,47.80 415.61,47.73 415.93,47.87 416.26,48.04 416.59,48.41 416.92,48.91 417.25,48.57 417.58,47.80 417.91,47.83 418.24,48.28 418.57,47.16 418.90,48.32 419.23,48.26 419.55,49.19 419.88,48.13 420.21,48.26 420.54,47.74 420.87,48.17 421.20,48.02 421.53,47.87 421.86,47.29 422.19,47.68 422.52,48.28 422.85,47.73 423.17,47.80 423.50,47.74 423.83,47.74 424.16,48.80 424.49,48.24 424.82,49.45 425.15,48.93 425.48,49.19 425.81,49.10 426.14,49.90 426.47,49.95 426.79,48.87 427.12,49.20 427.45,49.87 427.78,49.38 428.11,49.21 428.44,48.08 428.77,49.51 429.10,49.41 429.43,49.67 429.76,49.64 430.09,49.44 430.41,49.42 430.74,48.61 431.07,49.10 431.40,48.63 431.73,48.61 432.06,49.36 432.39,48.58 432.72,49.69 433.05,49.75 433.38,49.95 433.71,49.03 434.03,49.76 434.36,49.52 434.69,49.02 435.02,49.20 435.35,48.36 435.68,48.98 436.01,49.59 436.34,49.48 436.67,49.73 437.00,49.29 437.33,50.05 437.65,50.08 437.98,50.45 438.31,50.45 438.64,49.77 438.97,50.65 439.30,49.19" fill="none" stroke="#11cc11" stroke-width="1.3" stroke-dasharray="1.7999999999999998 0.6 0.6 0.6" stroke-linejoin="round"/>
<polyline points="340.90,104.86 341.21,105.34 341.53,103.93 341.84,104.02 342.15,104.56 342.47,106.76 342.78,107.15 343.10,105.76 343.41,103.48 343.72,101.20 344.04,100.31 344.35,99.82 344.66,98.46 344.98,95.31 345.29,97.29 345.61,99.46 345.92,98.61 346.23,99.39 346.55,98.58 346.86,98.25 347.17,98.26 347.49,97.41 347.80,98.46 348.12,98.86 348.43,97.88 348.74,97.41 349.06,99.17 349.37,97.34 349.68,97.27 350.00,95.67 350.31,95.35 350.63,93.23 350.94,92.05 351.25,90.61 351.57,89.91 351.88,88.37 352.19,87.03 352.51,85.85 352.82,83.73 353.14,84.16 353.45,81.27 353.76,80.33 354.08,82.28 354.39,79.58 354.70,79.42 355.02,77.30 355.33,76.30 355.65,76.80 355.96,73.57 356.27,72.67 356.59,71.10 356.90,73.60 357.21,72.35 357.53,74.60 357.84,74.69 358.16,74.61 358.47,72.66 358.78,73.16 359.10,70.86 359.41,71.90 359.72,71.30 360.04,71.11 360.35,71.78 360.67,70.49 360.98,68.96 361.29,70.41 361.61,69.89 361.92,70.42 362.23,69.95 362.55,71.27" fill="none" stroke="#1a1aee" stroke-width="1.5" stroke-dasharray="1.7999999999999998 0.8999999999999999" stroke-linejoin="round"/>
</g>
<line x1="340.90" y1="107.50" x2="387.15" y2="19.80" stroke="#3344ff" stroke-width="0.9" stroke-linecap="butt"/>
<line x1="340.90" y1="107.50" x2="404.37" y2="19.80" stroke="#22cc22" stroke-width="0.9" stroke-linecap="butt"/>
<line x1="340.90" y1="107.50" x2="439.30" y2="41.72" stroke="#dd1111" stroke-width="0.9" stroke-linecap="butt"/>
<line x1="340.90" y1="107.50" x2="439.30" y2="68.36" stroke="#ff8800" stroke-width="0.9" stroke-linecap="butt"/>
<line x1="340.90" y1="107.50" x2="439.30" y2="93.47" stroke="#ee22ee" stroke-width="0.9" stroke-linecap="butt"/>
<polyline points="366.20,57.30 366.20,38.80 376.90,38.80" fill="none" stroke="#3344ff" stroke-width="0.8"/>
<polyline points="374.60,60.50 374.60,46.20 385.50,46.20" fill="none" stroke="#22cc22" stroke-width="0.8"/>
<polyline points="392.70,72.90 392.70,60.30 411.00,60.30" fill="none" stroke="#dd1111" stroke-width="0.8"/>
<polyline points="407.70,80.80 407.70,72.30 421.50,72.30" fill="none" stroke="#ff8800" stroke-width="0.8"/>
<polyline points="398.50,99.40 398.50,95.40 412.00,95.40" fill="none" stroke="#ee22ee" stroke-width="0.8"/>
<rect x="340.9" y="19.8" width="98.40" height="87.70" fill="none" stroke="#666" stroke-width="0.8"/>
<line x1="340.90" y1="107.50" x2="342.40" y2="107.50" stroke="#666" stroke-width="0.6" stroke-linecap="butt"/>
<line x1="439.30" y1="107.50" x2="437.80" y2="107.50" stroke="#666" stroke-width="0.6" stroke-linecap="butt"/>
<text x="338.00" y="109.50" font-size="5.8" text-anchor="end" fill="#333" stroke="#333" stroke-width="0.18">0</text>
<line x1="340.90" y1="85.58" x2="342.40" y2="85.58" stroke="#666" stroke-width="0.6" stroke-linecap="butt"/>
<line x1="439.30" y1="85.58" x2="437.80" y2="85.58" stroke="#666" stroke-width="0.6" stroke-linecap="butt"/>
<text x="338.00" y="87.58" font-size="5.8" text-anchor="end" fill="#333" stroke="#333" stroke-width="0.18">2</text>
<line x1="340.90" y1="63.65" x2="342.40" y2="63.65" stroke="#666" stroke-width="0.6" stroke-linecap="butt"/>
<line x1="439.30" y1="63.65" x2="437.80" y2="63.65" stroke="#666" stroke-width="0.6" stroke-linecap="butt"/>
<text x="338.00" y="65.65" font-size="5.8" text-anchor="end" fill="#333" stroke="#333" stroke-width="0.18">4</text>
<line x1="340.90" y1="41.72" x2="342.40" y2="41.72" stroke="#666" stroke-width="0.6" stroke-linecap="butt"/>
<line x1="439.30" y1="41.72" x2="437.80" y2="41.72" stroke="#666" stroke-width="0.6" stroke-linecap="butt"/>
<text x="338.00" y="43.72" font-size="5.8" text-anchor="end" fill="#333" stroke="#333" stroke-width="0.18">6</text>
<line x1="340.90" y1="19.80" x2="342.40" y2="19.80" stroke="#666" stroke-width="0.6" stroke-linecap="butt"/>
<line x1="439.30" y1="19.80" x2="437.80" y2="19.80" stroke="#666" stroke-width="0.6" stroke-linecap="butt"/>
<text x="338.00" y="21.80" font-size="5.8" text-anchor="end" fill="#333" stroke="#333" stroke-width="0.18">8</text>
<line x1="340.90" y1="107.50" x2="340.90" y2="106.00" stroke="#666" stroke-width="0.6" stroke-linecap="butt"/>
<line x1="340.90" y1="19.80" x2="340.90" y2="21.30" stroke="#666" stroke-width="0.6" stroke-linecap="butt"/>
<text x="340.90" y="116.00" font-size="5.8" text-anchor="middle" fill="#333" stroke="#333" stroke-width="0.18">0</text>
<line x1="360.58" y1="107.50" x2="360.58" y2="106.00" stroke="#666" stroke-width="0.6" stroke-linecap="butt"/>
<line x1="360.58" y1="19.80" x2="360.58" y2="21.30" stroke="#666" stroke-width="0.6" stroke-linecap="butt"/>
<text x="360.58" y="116.00" font-size="5.8" text-anchor="middle" fill="#333" stroke="#333" stroke-width="0.18">2</text>
<line x1="380.26" y1="107.50" x2="380.26" y2="106.00" stroke="#666" stroke-width="0.6" stroke-linecap="butt"/>
<line x1="380.26" y1="19.80" x2="380.26" y2="21.30" stroke="#666" stroke-width="0.6" stroke-linecap="butt"/>
<text x="380.26" y="116.00" font-size="5.8" text-anchor="middle" fill="#333" stroke="#333" stroke-width="0.18">4</text>
<line x1="399.94" y1="107.50" x2="399.94" y2="106.00" stroke="#666" stroke-width="0.6" stroke-linecap="butt"/>
<line x1="399.94" y1="19.80" x2="399.94" y2="21.30" stroke="#666" stroke-width="0.6" stroke-linecap="butt"/>
<text x="399.94" y="116.00" font-size="5.8" text-anchor="middle" fill="#333" stroke="#333" stroke-width="0.18">6</text>
<line x1="419.62" y1="107.50" x2="419.62" y2="106.00" stroke="#666" stroke-width="0.6" stroke-linecap="butt"/>
<line x1="419.62" y1="19.80" x2="419.62" y2="21.30" stroke="#666" stroke-width="0.6" stroke-linecap="butt"/>
<text x="419.62" y="116.00" font-size="5.8" text-anchor="middle" fill="#333" stroke="#333" stroke-width="0.18">8</text>
<line x1="439.30" y1="107.50" x2="439.30" y2="106.00" stroke="#666" stroke-width="0.6" stroke-linecap="butt"/>
<line x1="439.30" y1="19.80" x2="439.30" y2="21.30" stroke="#666" stroke-width="0.6" stroke-linecap="butt"/>
<text x="439.30" y="116.00" font-size="5.8" text-anchor="middle" fill="#333" stroke="#333" stroke-width="0.18">10</text>
<text x="390.20" y="125.20" font-size="6.3" text-anchor="middle" fill="#222" stroke="#222" stroke-width="0.18" textLength="23.00" lengthAdjust="spacingAndGlyphs">Time (ms)</text>
<text transform="translate(330.30,66.20) rotate(-90)" x="0" y="0" font-size="6.0" text-anchor="middle" fill="#222" stroke="#222" stroke-width="0.28" textLength="30.50" lengthAdjust="spacingAndGlyphs">Agglomeration</text>
<text x="344.60" y="29.00" font-size="5.4" text-anchor="start" fill="#222" stroke="#222" stroke-width="0.18">Agglomeration</text>
<text x="344.40" y="35.30" font-size="5.4" text-anchor="start" fill="#222" stroke="#222" stroke-width="0.18">rate = slope</text>
<text x="7.00" y="207.30" font-size="10.5" text-anchor="start" fill="#000" font-weight="bold">C</text>
<g clip-path="url(#clipC)">
<polyline points="33.50,275.02 33.90,266.82 34.30,267.98 34.70,282.87 35.10,279.34 35.50,283.61 35.90,273.15 36.30,276.54 36.70,269.58 37.10,289.75 37.50,244.97 37.90,273.75 38.30,268.49 38.70,274.55 39.10,278.29 39.50,269.53 39.90,246.41 40.30,275.28 40.70,274.81 41.10,268.82 41.50,280.89 41.90,288.26 42.30,273.46 42.70,281.18 43.09,292.23 43.49,281.35 43.89,276.48 44.29,281.06 44.69,282.61 45.09,271.07 45.49,263.45 45.89,272.71 46.29,277.68 46.69,267.94 47.09,267.89 47.49,273.97 47.89,267.97 48.29,264.70 48.69,276.16 49.09,281.16 49.49,268.97 49.89,270.14 50.29,261.46 50.69,262.43 51.09,276.31 51.49,278.89 51.89,288.53 52.29,273.62 52.69,271.13 53.09,279.40 53.49,260.99 53.89,266.00 54.29,267.47 54.69,271.54 55.09,266.72 55.49,284.47 55.89,268.84 56.29,266.55 56.69,285.89 57.09,268.65 57.49,273.76 57.89,267.45 58.29,278.41 58.69,275.09 59.09,269.34 59.49,277.12 59.89,265.46 60.29,269.71 60.69,263.06 61.09,272.68 61.49,260.72 61.89,264.22 62.28,270.87 62.68,264.72 63.08,260.81 63.48,255.29 63.88,281.74 64.28,263.37 64.68,265.47 65.08,270.89 65.48,278.97 65.88,242.42 66.28,282.79 66.68,269.79 67.08,251.78 67.48,287.95 67.88,276.68 68.28,277.52 68.68,272.02 69.08,258.24 69.48,252.80 69.88,280.37 70.28,270.09 70.68,259.86 71.08,253.29 71.48,265.43 71.88,256.08 72.28,268.02 72.68,269.33 73.08,253.30 73.48,275.12 73.88,264.16 74.28,263.89 74.68,266.66 75.08,268.07 75.48,279.27 75.88,251.77 76.28,259.64 76.68,271.99 77.08,283.08 77.48,265.16 77.88,269.04 78.28,254.14 78.68,269.19 79.08,272.96 79.48,278.63 79.88,253.91 80.28,243.74 80.68,271.47 81.08,270.82 81.47,261.23 81.87,272.32 82.27,269.13 82.67,268.61 83.07,263.94 83.47,256.43 83.87,252.33 84.27,256.81 84.67,266.02 85.07,260.20 85.47,281.81 85.87,274.86 86.27,257.24 86.67,266.85 87.07,256.32 87.47,259.96 87.87,255.83 88.27,258.97 88.67,260.15 89.07,270.44 89.47,277.38 89.87,276.24 90.27,273.96 90.67,278.49 91.07,273.96 91.47,270.65 91.87,266.89 92.27,269.99 92.67,282.77 93.07,269.95 93.47,266.65 93.87,259.06 94.27,262.33 94.67,273.98 95.07,272.71 95.47,251.33 95.87,260.53 96.27,252.71 96.67,251.63 97.07,274.59 97.47,264.87 97.87,261.25 98.27,261.55 98.67,261.22 99.07,261.48 99.47,264.07 99.87,279.84 100.27,273.17 100.66,277.37 101.06,267.96 101.46,273.92 101.86,261.49 102.26,258.15 102.66,263.68 103.06,266.15 103.46,269.56 103.86,274.10 104.26,274.73 104.66,275.83 105.06,267.73 105.46,256.44 105.86,261.72 106.26,278.02 106.66,260.16 107.06,273.61 107.46,272.87 107.86,260.03 108.26,274.87 108.66,266.26 109.06,271.77 109.46,277.18 109.86,275.17 110.26,258.71 110.66,269.60 111.06,280.50 111.46,271.70 111.86,282.87 112.26,233.23 112.66,281.34 113.06,263.57 113.46,264.05 113.86,277.87 114.26,262.80 114.66,256.02 115.06,263.24 115.46,264.51 115.86,258.51 116.26,266.74 116.66,265.47 117.06,268.48 117.46,261.25 117.86,273.40 118.26,258.87 118.66,267.87 119.06,273.31 119.46,262.60 119.85,252.08 120.25,255.52 120.65,266.72 121.05,258.25 121.45,266.07 121.85,263.01 122.25,262.69 122.65,283.85 123.05,265.40 123.45,275.48 123.85,274.82 124.25,281.16 124.65,281.11 125.05,277.96 125.45,263.53 125.85,254.92 126.25,269.59 126.65,261.21 127.05,268.78 127.45,281.90 127.85,263.09 128.25,260.56 128.65,266.87 129.05,262.03 129.45,261.70 129.85,271.72 130.25,277.20 130.65,268.64 131.05,266.99 131.45,264.89 131.85,255.96 132.25,249.21 132.65,267.17 133.05,259.03 133.45,258.85 133.85,260.11 134.25,255.10 134.65,270.24 135.05,261.36 135.45,250.64 135.85,260.20 136.25,274.28 136.65,267.32 137.05,259.05 137.45,267.34 137.85,275.03 138.25,258.75 138.65,281.23 139.04,264.74 139.44,269.43 139.84,278.50 140.24,259.95 140.64,266.74 141.04,276.84 141.44,263.47 141.84,271.87 142.24,283.19 142.64,261.64 143.04,264.36 143.44,264.63 143.84,266.67 144.24,268.80 144.64,265.69 145.04,269.28 145.44,258.22 145.84,264.24 146.24,265.61 146.64,264.53 147.04,276.39 147.44,273.78 147.84,257.26 148.24,265.24 148.64,270.91 149.04,265.19 149.44,271.58 149.84,267.12 150.24,273.01 150.64,268.14 151.04,283.00 151.44,241.96 151.84,278.21 152.24,288.16 152.64,280.00 153.04,280.17 153.44,275.79 153.84,286.47 154.24,270.15 154.64,244.40 155.04,283.43 155.44,269.70 155.84,272.96 156.24,268.20 156.64,288.92 157.04,284.06 157.44,268.70 157.84,274.66 158.23,248.46 158.63,281.36 159.03,271.48 159.43,250.34 159.83,281.57 160.23,284.11 160.63,273.98 161.03,272.13 161.43,265.56 161.83,270.01 162.23,276.07 162.63,269.40 163.03,252.47 163.43,267.19 163.83,302.28 164.23,282.13 164.63,289.34 165.03,274.55 165.43,267.97 165.83,262.20 166.23,269.94 166.63,268.89 167.03,274.43 167.43,275.75 167.83,274.65 168.23,270.55 168.63,276.08 169.03,281.45 169.43,267.84 169.83,278.05 170.23,278.14 170.63,280.08 171.03,277.22 171.43,280.85 171.83,298.48 172.23,267.72 172.63,273.08 173.03,281.17 173.43,271.53 173.83,274.67 174.23,261.90 174.63,296.89 175.03,277.74 175.43,267.40 175.83,258.70 176.23,256.79 176.63,258.60 177.03,279.72 177.42,288.25 177.82,268.01 178.22,270.70 178.62,264.11 179.02,274.62 179.42,271.84 179.82,287.24 180.22,271.66 180.62,281.01 181.02,277.04 181.42,276.77 181.82,283.46 182.22,279.79 182.62,283.70 183.02,278.32 183.42,277.17 183.82,287.05 184.22,285.09 184.62,264.74 185.02,277.78 185.42,266.96 185.82,272.70 186.22,278.55 186.62,280.40 187.02,272.82 187.42,274.19 187.82,271.81 188.22,266.00 188.62,281.65 189.02,277.92 189.42,263.29 189.82,294.83 190.22,272.87 190.62,280.25 191.02,272.11 191.42,278.65 191.82,273.81 192.22,262.39 192.62,274.06 193.02,273.75 193.42,265.43 193.82,285.57 194.22,277.13 194.62,285.36 195.02,288.52 195.42,280.78 195.82,280.21 196.22,272.34 196.61,275.72 197.01,279.59 197.41,266.13 197.81,271.96 198.21,270.72 198.61,274.93 199.01,279.80 199.41,282.72 199.81,276.36 200.21,264.32 200.61,269.70 201.01,283.40 201.41,271.60 201.81,271.31 202.21,271.76 202.61,284.32 203.01,287.36 203.41,276.24 203.81,280.74 204.21,293.08 204.61,272.95 205.01,263.08 205.41,289.01 205.81,264.46 206.21,283.28 206.61,283.97 207.01,257.14 207.41,291.28 207.81,270.91 208.21,276.93 208.61,290.38 209.01,286.06 209.41,296.29 209.81,285.34 210.21,276.87 210.61,284.54 211.01,288.01 211.41,282.34 211.81,275.99 212.21,275.26 212.61,286.98 213.01,266.22 213.41,264.56 213.81,281.69 214.21,280.47 214.61,268.70 215.01,266.49 215.41,277.93 215.80,282.35 216.20,275.76 216.60,293.80 217.00,277.84 217.40,283.52 217.80,255.70 218.20,268.28 218.60,273.80 219.00,278.57 219.40,296.78 219.80,272.97 220.20,267.03 220.60,286.18 221.00,271.84 221.40,269.60 221.80,287.81 222.20,267.38 222.60,263.05 223.00,271.88 223.40,276.06 223.80,269.23 224.20,288.25 224.60,275.06 225.00,268.49" fill="none" stroke="#dd44dd" stroke-width="1.3" stroke-dasharray="2.5 1" stroke-linejoin="round"/>
<polyline points="33.50,276.14 33.87,265.43 34.24,244.85 34.61,267.69 34.98,260.16 35.34,287.46 35.71,282.62 36.08,288.71 36.45,279.22 36.82,270.40 37.19,278.24 37.56,274.07 37.93,294.24 38.30,278.63 38.67,287.89 39.03,264.81 39.40,275.85 39.77,271.85 40.14,281.26 40.51,253.16 40.88,278.45 41.25,285.80 41.62,283.66 41.99,280.93 42.36,280.73 42.72,277.83 43.09,271.84 43.46,275.65 43.83,234.04 44.20,284.43 44.57,266.92 44.94,282.01 45.31,281.67 45.68,286.18 46.05,277.70 46.41,278.04 46.78,277.34 47.15,280.76 47.52,275.12 47.89,261.16 48.26,272.71 48.63,282.46 49.00,268.32 49.37,278.45 49.74,272.81 50.10,275.44 50.47,284.29 50.84,297.07 51.21,281.27 51.58,274.75 51.95,284.05 52.32,276.10 52.69,272.13 53.06,282.57 53.42,268.95 53.79,266.73 54.16,269.98 54.53,269.47 54.90,256.09 55.27,260.80 55.64,278.97 56.01,279.07 56.38,274.06 56.75,287.95 57.11,282.85 57.48,288.73 57.85,278.78 58.22,279.14 58.59,296.56 58.96,298.22 59.33,283.71 59.70,265.62 60.07,247.29 60.44,273.00 60.80,265.94 61.17,274.76 61.54,273.19 61.91,287.83 62.28,288.22 62.65,275.58 63.02,274.64 63.39,273.19 63.76,272.31 64.13,267.84 64.49,268.78 64.86,291.24 65.23,281.90 65.60,273.48 65.97,273.00 66.34,291.53 66.71,269.49 67.08,283.38 67.45,279.27 67.82,275.67 68.18,271.17 68.55,289.03 68.92,267.41 69.29,275.32 69.66,269.52 70.03,277.74 70.40,295.90 70.77,284.20 71.14,279.60 71.50,287.24 71.87,283.38 72.24,285.51 72.61,283.91 72.98,275.10 73.35,282.38 73.72,286.28 74.09,283.01 74.46,267.77 74.83,285.09 75.19,279.07 75.56,295.79 75.93,269.29 76.30,272.39 76.67,267.10 77.04,281.10 77.41,290.01 77.78,271.39 78.15,269.92 78.52,283.27 78.88,286.51 79.25,271.44 79.62,276.03 79.99,254.18 80.36,286.08 80.73,287.33 81.10,285.58 81.47,300.17 81.84,291.42 82.21,270.52 82.57,259.97 82.94,285.79 83.31,274.11 83.68,276.12 84.05,276.57 84.42,279.81 84.79,285.46 85.16,280.49 85.53,279.49 85.89,285.83 86.26,277.59 86.63,302.93 87.00,296.82 87.37,290.31 87.74,289.67 88.11,301.52 88.48,286.07 88.85,276.90 89.22,281.07 89.58,283.18 89.95,277.33 90.32,264.28 90.69,294.63 91.06,289.29 91.43,276.46 91.80,297.38 92.17,287.19 92.54,290.60 92.91,293.75 93.27,293.93 93.64,285.10 94.01,281.16 94.38,281.31 94.75,296.28 95.12,287.55 95.49,283.33 95.86,276.84 96.23,277.59 96.60,275.89 96.96,273.01 97.33,273.66 97.70,286.38 98.07,280.23 98.44,247.75 98.81,303.14 99.18,299.59 99.55,268.48 99.92,295.58 100.29,303.64 100.65,290.77 101.02,269.75 101.39,280.08 101.76,274.55 102.13,281.54 102.50,281.96 102.87,269.64 103.24,274.59 103.61,284.44 103.97,279.13 104.34,278.17 104.71,286.00 105.08,282.26 105.45,282.71 105.82,290.06 106.19,273.98 106.56,272.11 106.93,289.59 107.30,298.48 107.66,292.47 108.03,250.40 108.40,272.39 108.77,277.51 109.14,283.88 109.51,277.29 109.88,278.74 110.25,262.41 110.62,289.30 110.99,285.98 111.35,287.09 111.72,287.23 112.09,287.04 112.46,279.04 112.83,274.34 113.20,279.34 113.57,289.08 113.94,277.42 114.31,282.77 114.68,277.61 115.04,264.91 115.41,285.33 115.78,283.74 116.15,292.70 116.52,289.12 116.89,294.46 117.26,275.94 117.63,285.59 118.00,293.19 118.37,272.88 118.73,296.67 119.10,276.29 119.47,274.89 119.84,279.40 120.21,285.17 120.58,285.88 120.95,288.80 121.32,279.31 121.69,306.84 122.05,290.00 122.42,285.46 122.79,288.40 123.16,302.30 123.53,288.74 123.90,291.35 124.27,252.16 124.64,273.49 125.01,287.07 125.38,299.98 125.74,284.88 126.11,292.74 126.48,279.85 126.85,270.91 127.22,282.43 127.59,271.62 127.96,275.52 128.33,281.35 128.70,294.67 129.07,284.62 129.43,298.69 129.80,277.07 130.17,285.04 130.54,275.59 130.91,284.65 131.28,303.68 131.65,279.24 132.02,275.14 132.39,268.86 132.76,289.25 133.12,288.81 133.49,281.15 133.86,292.00 134.23,294.48 134.60,293.77 134.97,261.49 135.34,287.93 135.71,291.35 136.08,285.33 136.45,283.56 136.81,271.59 137.18,249.69 137.55,278.72 137.92,283.89 138.29,284.81 138.66,263.32 139.03,294.80 139.40,265.78 139.77,286.87 140.13,275.13 140.50,282.77 140.87,283.32 141.24,284.51 141.61,293.20 141.98,281.88 142.35,278.12 142.72,277.76 143.09,281.10 143.46,277.61 143.82,282.80 144.19,285.98 144.56,302.47 144.93,289.80 145.30,272.61 145.67,284.08 146.04,281.47 146.41,290.36 146.78,292.37 147.15,269.30 147.51,283.29 147.88,273.77 148.25,280.64 148.62,288.24 148.99,305.31 149.36,285.88 149.73,296.86 150.10,301.82 150.47,271.57 150.84,275.79 151.20,277.57 151.57,284.49 151.94,287.21 152.31,282.92 152.68,284.39 153.05,284.89 153.42,278.21 153.79,301.90 154.16,249.11 154.53,287.54 154.89,274.41 155.26,270.68 155.63,288.94 156.00,275.85 156.37,275.65 156.74,290.63 157.11,290.27 157.48,285.57 157.85,307.52 158.21,294.50 158.58,287.24 158.95,290.64 159.32,298.99 159.69,289.06 160.06,268.61 160.43,267.57 160.80,282.70 161.17,288.30 161.54,281.36 161.90,277.88 162.27,284.92 162.64,283.21 163.01,275.30 163.38,272.18 163.75,301.28 164.12,274.97 164.49,258.51 164.86,272.74 165.23,281.05 165.59,277.49 165.96,270.38 166.33,309.93 166.70,269.00 167.07,281.82 167.44,241.86 167.81,303.73 168.18,277.07 168.55,287.69 168.92,271.99 169.28,279.48 169.65,284.98 170.02,276.37 170.39,281.11 170.76,277.33 171.13,277.13 171.50,282.36 171.87,280.28 172.24,279.91 172.61,300.94 172.97,291.48 173.34,290.06 173.71,289.83 174.08,300.12 174.45,291.60 174.82,251.29 175.19,283.78 175.56,274.31 175.93,293.80 176.29,288.79 176.66,289.73 177.03,286.52 177.40,288.52 177.77,296.33 178.14,278.46 178.51,275.21 178.88,274.01 179.25,292.45 179.62,283.98 179.98,266.79 180.35,282.15 180.72,261.36 181.09,281.33 181.46,271.91 181.83,271.34 182.20,259.75 182.57,275.33 182.94,272.75 183.31,288.09 183.67,281.48 184.04,266.73 184.41,284.79 184.78,294.76 185.15,277.76 185.52,297.22 185.89,286.17 186.26,300.31 186.63,283.69 187.00,271.77 187.36,291.59 187.73,282.56 188.10,287.48 188.47,285.57 188.84,285.52 189.21,292.32 189.58,288.28 189.95,291.74 190.32,294.30 190.68,297.79 191.05,280.33 191.42,294.49 191.79,281.68 192.16,283.26 192.53,296.20 192.90,276.93 193.27,290.93 193.64,278.53 194.01,270.76 194.37,287.51 194.74,289.00 195.11,289.93 195.48,262.18 195.85,284.53 196.22,291.11 196.59,272.17 196.96,281.50 197.33,281.73 197.70,292.80 198.06,305.24 198.43,293.98 198.80,288.58 199.17,305.90 199.54,299.89 199.91,296.16 200.28,279.38 200.65,279.00 201.02,279.02 201.39,286.20 201.75,292.49 202.12,281.85 202.49,282.19 202.86,278.06 203.23,284.29 203.60,283.02 203.97,233.85 204.34,287.81 204.71,285.71 205.08,277.19 205.44,295.06 205.81,285.66 206.18,278.88 206.55,283.19 206.92,224.12 207.29,293.71 207.66,285.13 208.03,290.52 208.40,283.64 208.76,284.81 209.13,284.15 209.50,270.23 209.87,282.66 210.24,284.71 210.61,286.21 210.98,281.98 211.35,288.96 211.72,239.38 212.09,279.12 212.45,287.07 212.82,291.53 213.19,294.12 213.56,285.74 213.93,270.90 214.30,243.05 214.67,282.44 215.04,279.30 215.41,296.73 215.78,274.25 216.14,284.00 216.51,268.31 216.88,278.13 217.25,281.82 217.62,275.50 217.99,285.31 218.36,267.55 218.73,278.23 219.10,281.07 219.47,281.81 219.83,288.05 220.20,277.29 220.57,278.88 220.94,265.53 221.31,280.33 221.68,276.48 222.05,284.47 222.42,287.68 222.79,290.10 223.16,276.28 223.52,285.42 223.89,277.62 224.26,288.39 224.63,277.03 225.00,299.85" fill="none" stroke="#ff8000" stroke-width="1.6" stroke-dasharray="3 1.2" stroke-linejoin="round"/>
<polyline points="33.50,262.76 34.03,268.17 34.57,269.32 35.10,288.44 35.63,256.63 36.17,238.44 36.70,235.26 37.23,256.31 37.77,272.95 38.30,261.43 38.83,290.62 39.37,280.46 39.90,268.86 40.43,274.56 40.97,276.38 41.50,298.76 42.03,302.70 42.57,280.49 43.10,277.58 43.64,283.76 44.17,285.12 44.70,262.94 45.24,256.12 45.77,266.37 46.30,274.59 46.84,245.65 47.37,255.18 47.90,271.38 48.44,267.71 48.97,273.67 49.50,251.12 50.04,267.53 50.57,275.05 51.10,262.67 51.64,239.94 52.17,294.31 52.70,277.40 53.24,258.57 53.77,261.78 54.30,261.36 54.84,264.95 55.37,272.09 55.90,261.11 56.44,261.39 56.97,269.87 57.50,281.37 58.04,275.26 58.57,282.05 59.10,266.17 59.64,276.50 60.17,269.56 60.70,261.48 61.24,274.63 61.77,265.73 62.31,271.88 62.84,255.26 63.37,273.03 63.91,260.41 64.44,260.06 64.97,253.58 65.51,253.23 66.04,270.10 66.57,238.19 67.11,253.06 67.64,268.56 68.17,251.96 68.71,264.61 69.24,267.19 69.77,227.70 70.31,250.18 70.84,263.54 71.37,252.85 71.91,242.88 72.44,251.75 72.97,248.08 73.51,233.24 74.04,246.88 74.57,239.09 75.11,247.92 75.64,254.96 76.17,255.58 76.71,247.27 77.24,250.96 77.77,243.10 78.31,248.67 78.84,250.31 79.37,259.43 79.91,261.11 80.44,261.91 80.97,306.66 81.51,295.16 82.04,282.14 82.58,275.07 83.11,277.91 83.64,293.19 84.18,289.15 84.71,287.12 85.24,262.91 85.78,276.91 86.31,290.50 86.84,273.26 87.38,279.04 87.91,275.01 88.44,292.43 88.98,292.04 89.51,290.75 90.04,275.99 90.58,296.23 91.11,284.25 91.64,286.97 92.18,283.23 92.71,269.66 93.24,272.43 93.78,249.48 94.31,285.99 94.84,301.08 95.38,285.41 95.91,295.48 96.44,278.56 96.98,290.68 97.51,301.81 98.04,277.66 98.58,287.22 99.11,280.71 99.64,286.35 100.18,290.88 100.71,300.84 101.25,292.54 101.78,308.49 102.31,310.35 102.85,317.72 103.38,307.69 103.91,311.80 104.45,330.11 104.98,324.63 105.51,316.32 106.05,312.93 106.58,310.31 107.11,309.21 107.65,297.34 108.18,300.05 108.71,319.51 109.25,304.50 109.78,306.80 110.31,311.10 110.85,313.09 111.38,299.44 111.91,304.85 112.45,318.46 112.98,299.33 113.51,303.44 114.05,305.35 114.58,272.85 115.11,308.87 115.65,304.48 116.18,287.37 116.71,293.33 117.25,307.09 117.78,296.62 118.31,330.17 118.85,338.35 119.38,321.16 119.92,331.20 120.45,330.49 120.98,318.12 121.52,332.68 122.05,328.11 122.58,329.03 123.12,326.81 123.65,324.52 124.18,331.30 124.72,319.97 125.25,336.13 125.78,325.52 126.32,321.62 126.85,321.12 127.38,320.96 127.92,321.38 128.45,327.47 128.98,331.69 129.52,335.40 130.05,344.41 130.58,329.06 131.12,331.44 131.65,335.89 132.18,338.93 132.72,334.59 133.25,336.93 133.78,331.31 134.32,330.58 134.85,335.67 135.38,332.07 135.92,308.12 136.45,341.10 136.98,340.80 137.52,341.02 138.05,341.78 138.58,341.09 139.12,342.13 139.65,336.80 140.19,337.96 140.72,333.96 141.25,333.51 141.79,337.98 142.32,342.52 142.85,340.75 143.39,343.31 143.92,345.01 144.45,335.98 144.99,338.04 145.52,341.26 146.05,338.18 146.59,343.92 147.12,347.98 147.65,351.74 148.19,354.60 148.72,359.54 149.25,357.43 149.79,356.31 150.32,359.59 150.85,357.82 151.39,327.89 151.92,354.21 152.45,350.05 152.99,360.66 153.52,352.81 154.05,358.02 154.59,358.52 155.12,359.16 155.65,351.55 156.19,356.33 156.72,349.54 157.25,351.75 157.79,353.82 158.32,350.42 158.86,345.83 159.39,346.28 159.92,352.49 160.46,352.06 160.99,353.68 161.52,356.04 162.06,357.01 162.59,358.94 163.12,364.36 163.66,360.69 164.19,368.00 164.72,365.94 165.26,362.37 165.79,367.40 166.32,367.86 166.86,364.39 167.39,368.08 167.92,370.67 168.46,367.40 168.99,368.40 169.52,368.93 170.06,372.60 170.59,362.28 171.12,365.14 171.66,365.61 172.19,365.19 172.72,364.29 173.26,363.45 173.79,360.00 174.32,360.86 174.86,368.68 175.39,367.77 175.92,369.59 176.46,371.89 176.99,356.89 177.53,367.18 178.06,367.06 178.59,365.69 179.13,370.14 179.66,372.94 180.19,362.56 180.73,370.13 181.26,364.86 181.79,368.44 182.33,358.48 182.86,361.82 183.39,365.77 183.93,369.58 184.46,367.47 184.99,371.37 185.53,369.63 186.06,372.56 186.59,365.90 187.13,367.06 187.66,367.94 188.19,359.65 188.73,366.85 189.26,364.29 189.79,366.87 190.33,370.76 190.86,372.70 191.39,361.71 191.93,370.23 192.46,365.34 192.99,365.43 193.53,361.93 194.06,357.71 194.59,369.00 195.13,364.94 195.66,363.39 196.19,372.31 196.73,373.74 197.26,369.77 197.80,369.10 198.33,366.78 198.86,372.69 199.40,366.36 199.93,373.44 200.46,367.43 201.00,367.82 201.53,375.26 202.06,366.01 202.60,369.35 203.13,362.69 203.66,365.17 204.20,371.97 204.73,371.83 205.26,367.97 205.80,371.09 206.33,359.20 206.86,364.24 207.40,367.74 207.93,366.24 208.46,369.70 209.00,366.76 209.53,373.15 210.06,369.39 210.60,368.92 211.13,374.93 211.66,368.91 212.20,372.30 212.73,367.77 213.26,369.93 213.80,375.12 214.33,374.09 214.86,370.46 215.40,361.93 215.93,360.69 216.47,361.54 217.00,365.56 217.53,367.44 218.07,366.26 218.60,368.46 219.13,373.17 219.67,371.83 220.20,367.56 220.73,365.67 221.27,370.68 221.80,375.88 222.33,373.13 222.87,373.47 223.40,366.24 223.93,368.39 224.47,371.33 225.00,362.42" fill="none" stroke="#cc0000" stroke-width="2.2" stroke-linejoin="round"/>
<polyline points="33.50,298.03 34.14,288.31 34.78,291.50 35.42,281.44 36.06,278.01 36.70,280.89 37.34,281.90 37.98,277.44 38.62,277.59 39.26,277.83 39.90,276.46 40.55,273.62 41.19,269.86 41.83,271.88 42.47,277.77 43.11,282.68 43.75,278.47 44.39,276.19 45.03,268.74 45.67,274.30 46.31,281.14 46.95,267.05 47.59,267.21 48.23,271.93 48.87,279.14 49.51,274.64 50.15,271.37 50.79,270.81 51.43,275.80 52.07,275.14 52.71,263.70 53.35,279.38 53.99,262.22 54.64,274.21 55.28,262.07 55.92,265.09 56.56,264.03 57.20,265.33 57.84,256.97 58.48,261.15 59.12,256.13 59.76,255.33 60.40,228.68 61.04,239.00 61.68,243.87 62.32,248.25 62.96,243.70 63.60,250.27 64.24,263.76 64.88,265.20 65.52,280.83 66.16,296.72 66.80,295.26 67.44,283.84 68.09,292.23 68.73,292.54 69.37,299.08 70.01,300.01 70.65,305.30 71.29,312.97 71.93,318.25 72.57,316.85 73.21,314.24 73.85,314.49 74.49,309.30 75.13,309.47 75.77,295.82 76.41,306.64 77.05,297.52 77.69,311.27 78.33,314.85 78.97,320.92 79.61,322.24 80.25,323.27 80.89,327.45 81.54,329.81 82.18,331.07 82.82,333.12 83.46,333.66 84.10,334.37 84.74,341.90 85.38,342.15 86.02,345.10 86.66,348.13 87.30,351.36 87.94,355.37 88.58,358.79 89.22,362.48 89.86,362.44 90.50,363.45 91.14,367.50 91.78,367.10 92.42,373.24 93.06,370.72 93.70,375.04 94.34,373.91 94.98,375.07 95.63,373.88 96.27,372.90 96.91,374.62 97.55,373.24 98.19,372.36 98.83,372.45 99.47,373.04 100.11,373.29 100.75,374.00 101.39,373.95 102.03,374.65 102.67,355.80 103.31,374.74 103.95,374.76 104.59,372.04 105.23,373.85 105.87,372.89 106.51,375.14 107.15,374.68 107.79,374.22 108.43,374.39 109.08,373.39 109.72,375.89 110.36,373.43 111.00,373.47 111.64,374.58 112.28,375.27 112.92,373.95 113.56,374.16 114.20,375.95 114.84,373.30 115.48,376.05 116.12,374.97 116.76,372.71 117.40,374.46 118.04,376.21 118.68,372.85 119.32,376.94 119.96,373.99 120.60,375.16 121.24,372.49 121.88,373.53 122.53,373.68 123.17,374.92 123.81,374.19 124.45,376.24 125.09,376.05 125.73,374.26 126.37,373.82 127.01,376.78 127.65,375.16 128.29,374.75 128.93,373.24 129.57,374.80 130.21,374.95 130.85,374.03 131.49,373.99 132.13,375.38 132.77,361.31 133.41,373.70 134.05,373.86 134.69,375.01 135.33,376.34 135.97,375.54 136.62,373.65 137.26,374.99 137.90,373.68 138.54,374.63 139.18,374.11 139.82,376.88 140.46,376.25 141.10,377.31 141.74,375.66 142.38,374.11 143.02,376.53 143.66,375.37 144.30,375.77 144.94,373.85 145.58,375.24 146.22,372.63 146.86,374.17 147.50,373.37 148.14,375.27 148.78,373.06 149.42,377.06 150.07,364.76 150.71,374.62 151.35,375.25 151.99,373.92 152.63,375.14 153.27,374.50 153.91,376.98 154.55,374.23 155.19,374.50 155.83,374.19 156.47,375.38 157.11,375.09 157.75,375.92 158.39,376.42 159.03,374.79 159.67,373.72 160.31,375.74 160.95,376.83 161.59,378.45 162.23,377.27 162.87,375.40 163.52,374.64 164.16,374.42 164.80,376.23 165.44,375.09 166.08,373.64 166.72,374.55 167.36,374.18 168.00,374.77 168.64,376.40 169.28,374.94 169.92,373.50 170.56,375.11 171.20,377.42 171.84,376.79 172.48,374.86 173.12,374.20 173.76,374.04 174.40,377.02 175.04,374.29 175.68,376.16 176.32,375.04 176.96,376.03 177.61,373.95 178.25,377.17 178.89,375.65 179.53,375.13 180.17,376.53 180.81,375.88 181.45,374.10 182.09,375.63 182.73,374.36 183.37,376.41 184.01,377.08 184.65,377.95 185.29,375.03 185.93,376.28 186.57,374.92 187.21,376.21 187.85,376.13 188.49,375.25 189.13,375.31 189.77,376.75 190.41,374.90 191.06,376.45 191.70,376.19 192.34,371.87 192.98,373.89 193.62,375.91 194.26,376.47 194.90,377.82 195.54,377.48 196.18,375.95 196.82,376.42 197.46,377.08 198.10,376.25 198.74,376.68 199.38,375.69 200.02,377.68 200.66,376.44 201.30,378.50 201.94,376.65 202.58,376.46 203.22,378.39 203.86,377.55 204.51,376.41 205.15,377.92 205.79,375.92 206.43,375.19 207.07,378.49 207.71,375.33 208.35,376.39 208.99,377.72 209.63,374.70 210.27,376.95 210.91,376.07 211.55,377.31 212.19,377.77 212.83,378.50 213.47,377.67 214.11,374.35 214.75,377.98 215.39,377.85 216.03,378.03 216.67,376.16 217.31,377.86 217.95,377.55 218.60,377.55 219.24,377.61 219.88,376.98 220.52,378.50 221.16,378.50 221.80,376.95 222.44,376.18 223.08,376.37 223.72,377.53 224.36,378.50 225.00,375.58" fill="none" stroke="#11cc11" stroke-width="1.9" stroke-dasharray="3 1 1 1" stroke-linejoin="round"/>
<polyline points="33.50,336.37 33.98,327.20 34.47,315.08 34.95,314.42 35.44,303.98 35.92,297.35 36.40,303.32 36.89,288.16 37.37,294.39 37.86,279.21 38.34,284.20 38.83,288.71 39.31,283.23 39.79,281.37 40.28,279.00 40.76,272.37 41.25,276.10 41.73,269.95 42.21,274.50 42.70,278.00 43.18,284.15 43.67,283.78 44.15,274.45 44.63,271.49 45.12,267.28 45.60,277.26 46.09,273.57 46.57,277.75 47.06,275.55 47.54,284.54 48.02,269.27 48.51,276.29 48.99,272.81 49.48,269.98 49.96,270.26 50.44,278.23 50.93,264.14 51.41,268.30 51.90,269.96 52.38,276.10 52.87,281.18 53.35,281.69 53.83,274.99 54.32,273.53 54.80,275.56 55.29,257.93 55.77,260.51 56.25,222.16 56.74,252.22 57.22,266.01 57.71,259.69 58.19,266.35 58.67,278.86 59.16,272.90 59.64,274.94 60.13,279.19 60.61,282.58 61.10,298.61 61.58,296.60 62.06,303.58 62.55,308.14 63.03,315.43 63.52,315.67 64.00,321.85 64.48,334.02 64.97,329.73 65.45,330.43 65.94,343.23 66.42,369.22 66.90,376.55 67.39,375.91 67.87,378.50 68.36,375.71 68.84,378.50 69.33,371.08 69.81,371.62 70.29,375.40 70.78,378.50 71.26,373.58 71.75,378.19 72.23,378.44 72.71,369.50 73.20,378.50 73.68,378.50 74.17,371.09 74.65,366.17 75.14,367.01 75.62,371.13 76.10,364.61 76.59,376.79" fill="none" stroke="#1a1aee" stroke-width="2.0" stroke-dasharray="3 1.5" stroke-linejoin="round"/>
</g>
<rect x="33.5" y="204.6" width="191.50" height="174.40" fill="none" stroke="#111" stroke-width="1.6"/>
<line x1="33.50" y1="379.00" x2="35.50" y2="379.00" stroke="#111" stroke-width="0.8" stroke-linecap="butt"/>
<line x1="225.00" y1="379.00" x2="223.00" y2="379.00" stroke="#111" stroke-width="0.8" stroke-linecap="butt"/>
<text x="31.40" y="381.20" font-size="7.8" text-anchor="end" fill="#111" stroke="#111" stroke-width="0.18">0</text>
<line x1="33.50" y1="329.25" x2="35.50" y2="329.25" stroke="#111" stroke-width="0.8" stroke-linecap="butt"/>
<line x1="225.00" y1="329.25" x2="223.00" y2="329.25" stroke="#111" stroke-width="0.8" stroke-linecap="butt"/>
<text x="31.40" y="331.45" font-size="7.8" text-anchor="end" fill="#111" stroke="#111" stroke-width="0.18">0.5</text>
<line x1="33.50" y1="279.50" x2="35.50" y2="279.50" stroke="#111" stroke-width="0.8" stroke-linecap="butt"/>
<line x1="225.00" y1="279.50" x2="223.00" y2="279.50" stroke="#111" stroke-width="0.8" stroke-linecap="butt"/>
<text x="31.40" y="281.70" font-size="7.8" text-anchor="end" fill="#111" stroke="#111" stroke-width="0.18">1</text>
<line x1="33.50" y1="229.75" x2="35.50" y2="229.75" stroke="#111" stroke-width="0.8" stroke-linecap="butt"/>
<line x1="225.00" y1="229.75" x2="223.00" y2="229.75" stroke="#111" stroke-width="0.8" stroke-linecap="butt"/>
<text x="31.40" y="231.95" font-size="7.8" text-anchor="end" fill="#111" stroke="#111" stroke-width="0.18">1.5</text>
<line x1="33.50" y1="379.00" x2="33.50" y2="377.00" stroke="#111" stroke-width="0.8" stroke-linecap="butt"/>
<line x1="33.50" y1="204.60" x2="33.50" y2="206.60" stroke="#111" stroke-width="0.8" stroke-linecap="butt"/>
<text x="33.50" y="388.80" font-size="7.8" text-anchor="middle" fill="#111" stroke="#111" stroke-width="0.18">0</text>
<line x1="71.80" y1="379.00" x2="71.80" y2="377.00" stroke="#111" stroke-width="0.8" stroke-linecap="butt"/>
<line x1="71.80" y1="204.60" x2="71.80" y2="206.60" stroke="#111" stroke-width="0.8" stroke-linecap="butt"/>
<text x="71.80" y="388.80" font-size="7.8" text-anchor="middle" fill="#111" stroke="#111" stroke-width="0.18">2</text>
<line x1="110.10" y1="379.00" x2="110.10" y2="377.00" stroke="#111" stroke-width="0.8" stroke-linecap="butt"/>
<line x1="110.10" y1="204.60" x2="110.10" y2="206.60" stroke="#111" stroke-width="0.8" stroke-linecap="butt"/>
<text x="110.10" y="388.80" font-size="7.8" text-anchor="middle" fill="#111" stroke="#111" stroke-width="0.18">4</text>
<line x1="148.40" y1="379.00" x2="148.40" y2="377.00" stroke="#111" stroke-width="0.8" stroke-linecap="butt"/>
<line x1="148.40" y1="204.60" x2="148.40" y2="206.60" stroke="#111" stroke-width="0.8" stroke-linecap="butt"/>
<text x="148.40" y="388.80" font-size="7.8" text-anchor="middle" fill="#111" stroke="#111" stroke-width="0.18">6</text>
<line x1="186.70" y1="379.00" x2="186.70" y2="377.00" stroke="#111" stroke-width="0.8" stroke-linecap="butt"/>
<line x1="186.70" y1="204.60" x2="186.70" y2="206.60" stroke="#111" stroke-width="0.8" stroke-linecap="butt"/>
<text x="186.70" y="388.80" font-size="7.8" text-anchor="middle" fill="#111" stroke="#111" stroke-width="0.18">8</text>
<line x1="225.00" y1="379.00" x2="225.00" y2="377.00" stroke="#111" stroke-width="0.8" stroke-linecap="butt"/>
<line x1="225.00" y1="204.60" x2="225.00" y2="206.60" stroke="#111" stroke-width="0.8" stroke-linecap="butt"/>
<text x="225.00" y="388.80" font-size="7.8" text-anchor="middle" fill="#111" stroke="#111" stroke-width="0.18">10</text>
<text x="129.40" y="401.00" font-size="8.5" text-anchor="middle" fill="#111" stroke="#111" stroke-width="0.28" textLength="28.80" lengthAdjust="spacingAndGlyphs">Time (ms)</text>
<text transform="translate(14.50,291.90) rotate(-90)" x="0" y="0" font-size="8.8" text-anchor="middle" fill="#111" stroke="#111" stroke-width="0.28" textLength="53.60" lengthAdjust="spacingAndGlyphs">Superficial velocity</text>
<text x="292.60" y="206.80" font-size="10.5" text-anchor="start" fill="#000" font-weight="bold">D</text>
<rect x="336.40" y="207.10" width="19.50" height="166.40" fill="#8480bc" stroke="#7570b0" stroke-width="0.6"/>
<rect x="371.30" y="207.10" width="19.50" height="166.40" fill="#8480bc" stroke="#7570b0" stroke-width="0.6"/>
<rect x="406.10" y="314.20" width="19.50" height="59.30" fill="#8480bc" stroke="#7570b0" stroke-width="0.6"/>
<rect x="441.10" y="349.21" width="19.50" height="24.29" fill="#8480bc" stroke="#7570b0" stroke-width="0.6"/>
<rect x="475.80" y="357.13" width="19.50" height="16.37" fill="#8480bc" stroke="#7570b0" stroke-width="0.6"/>
<line x1="322.50" y1="290.15" x2="415.50" y2="290.15" stroke="#111" stroke-width="1.0" stroke-dasharray="4.5 2.3 1.2 2.3" stroke-linecap="butt"/>
<line x1="484.00" y1="290.15" x2="513.00" y2="290.15" stroke="#111" stroke-width="1.0" stroke-dasharray="4.5 2.3 1.2 2.3" stroke-linecap="butt"/>
<polyline points="322.5,373.5 513.0,373.5 513.0,206.8 322.5,206.8 322.5,373.5" fill="none" stroke="#111" stroke-width="1.2"/>
<line x1="319.50" y1="373.50" x2="322.50" y2="373.50" stroke="#111" stroke-width="0.8" stroke-linecap="butt"/>
<line x1="320.50" y1="365.17" x2="322.50" y2="365.17" stroke="#111" stroke-width="0.8" stroke-linecap="butt"/>
<line x1="320.50" y1="356.83" x2="322.50" y2="356.83" stroke="#111" stroke-width="0.8" stroke-linecap="butt"/>
<line x1="320.50" y1="348.50" x2="322.50" y2="348.50" stroke="#111" stroke-width="0.8" stroke-linecap="butt"/>
<line x1="320.50" y1="340.16" x2="322.50" y2="340.16" stroke="#111" stroke-width="0.8" stroke-linecap="butt"/>
<line x1="319.50" y1="331.82" x2="322.50" y2="331.82" stroke="#111" stroke-width="0.8" stroke-linecap="butt"/>
<line x1="320.50" y1="323.49" x2="322.50" y2="323.49" stroke="#111" stroke-width="0.8" stroke-linecap="butt"/>
<line x1="320.50" y1="315.16" x2="322.50" y2="315.16" stroke="#111" stroke-width="0.8" stroke-linecap="butt"/>
<line x1="320.50" y1="306.82" x2="322.50" y2="306.82" stroke="#111" stroke-width="0.8" stroke-linecap="butt"/>
<line x1="320.50" y1="298.49" x2="322.50" y2="298.49" stroke="#111" stroke-width="0.8" stroke-linecap="butt"/>
<line x1="319.50" y1="290.15" x2="322.50" y2="290.15" stroke="#111" stroke-width="0.8" stroke-linecap="butt"/>
<line x1="320.50" y1="281.81" x2="322.50" y2="281.81" stroke="#111" stroke-width="0.8" stroke-linecap="butt"/>
<line x1="320.50" y1="273.48" x2="322.50" y2="273.48" stroke="#111" stroke-width="0.8" stroke-linecap="butt"/>
<line x1="320.50" y1="265.14" x2="322.50" y2="265.14" stroke="#111" stroke-width="0.8" stroke-linecap="butt"/>
<line x1="320.50" y1="256.81" x2="322.50" y2="256.81" stroke="#111" stroke-width="0.8" stroke-linecap="butt"/>
<line x1="319.50" y1="248.48" x2="322.50" y2="248.48" stroke="#111" stroke-width="0.8" stroke-linecap="butt"/>
<line x1="320.50" y1="240.14" x2="322.50" y2="240.14" stroke="#111" stroke-width="0.8" stroke-linecap="butt"/>
<line x1="320.50" y1="231.81" x2="322.50" y2="231.81" stroke="#111" stroke-width="0.8" stroke-linecap="butt"/>
<line x1="320.50" y1="223.47" x2="322.50" y2="223.47" stroke="#111" stroke-width="0.8" stroke-linecap="butt"/>
<line x1="320.50" y1="215.14" x2="322.50" y2="215.14" stroke="#111" stroke-width="0.8" stroke-linecap="butt"/>
<line x1="319.50" y1="206.80" x2="322.50" y2="206.80" stroke="#111" stroke-width="0.8" stroke-linecap="butt"/>
<text x="316.60" y="376.30" font-size="7.9" text-anchor="end" fill="#111" stroke="#111" stroke-width="0.18">0</text>
<text x="316.60" y="334.62" font-size="7.9" text-anchor="end" fill="#111" stroke="#111" stroke-width="0.18">5</text>
<text x="316.60" y="292.95" font-size="7.9" text-anchor="end" fill="#111" stroke="#111" stroke-width="0.18">10</text>
<text x="316.60" y="251.28" font-size="7.9" text-anchor="end" fill="#111" stroke="#111" stroke-width="0.18">15</text>
<text x="316.60" y="209.60" font-size="7.9" text-anchor="end" fill="#111" stroke="#111" stroke-width="0.18">20</text>
<line x1="346.15" y1="373.50" x2="346.15" y2="376.50" stroke="#111" stroke-width="0.9" stroke-linecap="butt"/>
<text x="346.15" y="386.20" font-size="7.5" text-anchor="middle" fill="#111" stroke="#111" stroke-width="0.18">0.1×</text>
<line x1="381.05" y1="373.50" x2="381.05" y2="376.50" stroke="#111" stroke-width="0.9" stroke-linecap="butt"/>
<text x="381.05" y="386.20" font-size="7.5" text-anchor="middle" fill="#111" stroke="#111" stroke-width="0.18">0.4×</text>
<line x1="415.85" y1="373.50" x2="415.85" y2="376.50" stroke="#111" stroke-width="0.9" stroke-linecap="butt"/>
<text x="415.85" y="386.20" font-size="7.5" text-anchor="middle" fill="#111" stroke="#111" stroke-width="0.18">Control</text>
<line x1="450.85" y1="373.50" x2="450.85" y2="376.50" stroke="#111" stroke-width="0.9" stroke-linecap="butt"/>
<text x="450.85" y="386.20" font-size="7.5" text-anchor="middle" fill="#111" stroke="#111" stroke-width="0.18">6×</text>
<line x1="485.55" y1="373.50" x2="485.55" y2="376.50" stroke="#111" stroke-width="0.9" stroke-linecap="butt"/>
<text x="485.55" y="386.20" font-size="7.5" text-anchor="middle" fill="#111" stroke="#111" stroke-width="0.18">18×</text>
<text x="417.90" y="398.00" font-size="9.0" text-anchor="middle" fill="#111" stroke="#111" stroke-width="0.28" textLength="56.90" lengthAdjust="spacingAndGlyphs">sVWF concentration</text>
<text transform="translate(300.10,290.50) rotate(-90)" x="0" y="0" font-size="8.8" text-anchor="middle" fill="#111" stroke="#111" stroke-width="0.28" textLength="52.20" lengthAdjust="spacingAndGlyphs">Capture time (ms)</text>
<text x="450.70" y="219.00" font-size="7.5" text-anchor="middle" fill="#111" stroke="#111" stroke-width="0.18">No capture of</text>
<text x="450.70" y="228.00" font-size="7.5" text-anchor="middle" fill="#111" stroke="#111" stroke-width="0.18">agglomerates</text>
<text x="450.70" y="237.00" font-size="7.5" text-anchor="middle" fill="#111" stroke="#111" stroke-width="0.18">was observed</text>
<text x="450.70" y="246.00" font-size="7.5" text-anchor="middle" fill="#111" stroke="#111" stroke-width="0.18">within 100 ms</text>
<text x="450.60" y="284.30" font-size="7.5" text-anchor="middle" fill="#111" stroke="#111" stroke-width="0.18">Platelet transit time</text>
<text x="450.60" y="293.50" font-size="7.5" text-anchor="middle" fill="#111" stroke="#111" stroke-width="0.18">through a</text>
<text x="450.60" y="302.70" font-size="7.5" text-anchor="middle" fill="#111" stroke="#111" stroke-width="0.18">1000 <tspan font-style="italic">μ</tspan>m stenotic</text>
<text x="450.60" y="311.90" font-size="7.5" text-anchor="middle" fill="#111" stroke="#111" stroke-width="0.18">section</text>
<polyline points="356.4,246.5 411,246.5 411,230.9" fill="none" stroke="#111" stroke-width="1"/>
<line x1="391.00" y1="230.90" x2="421.00" y2="230.90" stroke="#111" stroke-width="1" stroke-linecap="butt"/>
<polygon points="420.0,228.6 425.3,230.9 420.0,233.2" fill="#111"/>
<circle cx="356.4" cy="246.5" r="1.9" fill="#000"/>
<circle cx="391.0" cy="230.9" r="1.9" fill="#000"/>
<text x="7.00" y="419.40" font-size="10.5" text-anchor="start" fill="#000" font-weight="bold">E</text>
<text x="145.50" y="419.20" font-size="9.0" text-anchor="middle" fill="#111" stroke="#111" stroke-width="0.18" textLength="85.00" lengthAdjust="spacingAndGlyphs">Thrombosis-on-a-chip</text>
<text x="145.2" y="430.6" font-size="9.0" text-anchor="middle" fill="#111">(<tspan font-style="italic">in vitro</tspan>)</text>
<polyline points="69.90,515.00 70.50,508.00 71.50,503.50 73.00,501.00 75.00,499.80 77.50,499.30 80.00,499.50 83.00,500.30 86.00,501.80 89.50,504.50 93.00,508.30 97.70,514.00 102.30,519.40 104.10,522.50 109.00,535.60 115.60,555.20 122.10,574.80 128.60,587.90 133.60,594.40 135.50,592.00 136.80,592.80 138.00,594.00 141.70,591.10 148.30,587.90 153.20,586.20 155.00,588.50 156.00,587.00 158.00,587.90 160.00,589.00 163.00,591.10 167.90,591.10 174.40,596.00 181.00,597.70 185.90,598.30 190.80,602.60 197.30,605.90 202.20,607.50 203.50,609.00" fill="none" stroke="#1c5894" stroke-width="1.7" stroke-linejoin="round"/>
<polyline points="69.90,505.50 72.00,499.50 78.00,496.30 84.50,498.00 92.70,502.90 102.50,511.00 109.00,516.00 113.00,517.20 117.20,517.60 123.70,525.80 130.30,539.50 138.50,550.00 148.30,559.80 158.00,569.80 167.90,580.80 177.70,589.50 187.50,594.40 197.30,597.70 205.50,597.00 210.40,597.70 220.20,600.30" fill="none" stroke="#d0123c" stroke-width="1.7" stroke-dasharray="3.4 2" stroke-linejoin="round"/>
<polyline points="69.90,503.50 79.60,502.90 99.20,504.50 125.40,504.80 158.00,505.50 181.00,506.20 186.00,507.50 189.10,509.20 193.00,507.50 197.30,506.80 220.20,505.50" fill="none" stroke="#e0158a" stroke-width="1.7" stroke-dasharray="4 1.1 0.6 1.1" stroke-linejoin="round"/>
<line x1="116.10" y1="447.10" x2="136.30" y2="447.10" stroke="#1c5894" stroke-width="1.6" stroke-linecap="butt"/>
<line x1="116.10" y1="456.80" x2="136.30" y2="456.80" stroke="#d4143c" stroke-width="1.5" stroke-dasharray="3 1.8" stroke-linecap="butt"/>
<line x1="116.10" y1="465.40" x2="136.30" y2="465.40" stroke="#e0158a" stroke-width="1.6" stroke-dasharray="4 1.1 0.6 1.1" stroke-linecap="butt"/>
<text x="139.80" y="449.90" font-size="7.3" text-anchor="start" fill="#111" stroke="#111" stroke-width="0.18">20× sVWF</text>
<text x="139.80" y="459.30" font-size="7.3" text-anchor="start" fill="#111" stroke="#111" stroke-width="0.18">Control</text>
<text x="139.80" y="468.10" font-size="7.3" text-anchor="start" fill="#111" stroke="#111" stroke-width="0.18">0.1× sVWF</text>
<line x1="69.45" y1="431.00" x2="69.45" y2="610.15" stroke="#111" stroke-width="1.4" stroke-linecap="butt"/>
<line x1="68.75" y1="609.45" x2="220.80" y2="609.45" stroke="#111" stroke-width="1.4" stroke-linecap="butt"/>
<line x1="66.25" y1="609.45" x2="69.45" y2="609.45" stroke="#111" stroke-width="1.0" stroke-linecap="butt"/>
<text x="63.70" y="612.25" font-size="7.9" text-anchor="end" fill="#111" stroke="#111" stroke-width="0.18">210</text>
<line x1="66.25" y1="584.45" x2="69.45" y2="584.45" stroke="#111" stroke-width="1.0" stroke-linecap="butt"/>
<text x="63.70" y="587.25" font-size="7.9" text-anchor="end" fill="#111" stroke="#111" stroke-width="0.18">220</text>
<line x1="66.25" y1="559.45" x2="69.45" y2="559.45" stroke="#111" stroke-width="1.0" stroke-linecap="butt"/>
<text x="63.70" y="562.25" font-size="7.9" text-anchor="end" fill="#111" stroke="#111" stroke-width="0.18">230</text>
<line x1="66.25" y1="534.45" x2="69.45" y2="534.45" stroke="#111" stroke-width="1.0" stroke-linecap="butt"/>
<text x="63.70" y="537.25" font-size="7.9" text-anchor="end" fill="#111" stroke="#111" stroke-width="0.18">240</text>
<line x1="66.25" y1="509.45" x2="69.45" y2="509.45" stroke="#111" stroke-width="1.0" stroke-linecap="butt"/>
<text x="63.70" y="512.25" font-size="7.9" text-anchor="end" fill="#111" stroke="#111" stroke-width="0.18">250</text>
<line x1="66.25" y1="484.45" x2="69.45" y2="484.45" stroke="#111" stroke-width="1.0" stroke-linecap="butt"/>
<text x="63.70" y="487.25" font-size="7.9" text-anchor="end" fill="#111" stroke="#111" stroke-width="0.18">260</text>
<line x1="66.25" y1="459.45" x2="69.45" y2="459.45" stroke="#111" stroke-width="1.0" stroke-linecap="butt"/>
<text x="63.70" y="462.25" font-size="7.9" text-anchor="end" fill="#111" stroke="#111" stroke-width="0.18">270</text>
<line x1="66.25" y1="434.45" x2="69.45" y2="434.45" stroke="#111" stroke-width="1.0" stroke-linecap="butt"/>
<text x="63.70" y="437.25" font-size="7.9" text-anchor="end" fill="#111" stroke="#111" stroke-width="0.18">280</text>
<line x1="69.45" y1="609.45" x2="69.45" y2="612.65" stroke="#111" stroke-width="1.0" stroke-linecap="butt"/>
<text x="69.45" y="620.80" font-size="7.9" text-anchor="middle" fill="#111" stroke="#111" stroke-width="0.18">0</text>
<line x1="127.85" y1="609.45" x2="127.85" y2="612.65" stroke="#111" stroke-width="1.0" stroke-linecap="butt"/>
<text x="127.85" y="620.80" font-size="7.9" text-anchor="middle" fill="#111" stroke="#111" stroke-width="0.18">100</text>
<line x1="186.25" y1="609.45" x2="186.25" y2="612.65" stroke="#111" stroke-width="1.0" stroke-linecap="butt"/>
<text x="186.25" y="620.80" font-size="7.9" text-anchor="middle" fill="#111" stroke="#111" stroke-width="0.18">200</text>
<text x="145.10" y="633.00" font-size="8.8" text-anchor="middle" fill="#111" stroke="#111" stroke-width="0.28" textLength="23.40" lengthAdjust="spacingAndGlyphs">Time (s)</text>
<text transform="translate(44.10,522.10) rotate(-90)" x="0" y="0" font-size="8.3" text-anchor="middle" fill="#111" stroke="#111" stroke-width="0.28" textLength="39.60" lengthAdjust="spacingAndGlyphs">API (inverted)</text>
<text x="156.40" y="519.80" font-size="7.6" text-anchor="start" fill="#111" stroke="#111" stroke-width="0.18">No SIPA</text>
<text x="156.40" y="529.90" font-size="7.6" text-anchor="start" fill="#111" stroke="#111" stroke-width="0.18">No occlusion</text>
<line x1="189.10" y1="521.00" x2="189.10" y2="512.70" stroke="#111" stroke-width="1.3" stroke-linecap="butt"/>
<polygon points="189.10,508.40 191.50,513.20 186.70,513.20" fill="#111"/>
<text x="180.40" y="576.20" font-size="7.5" text-anchor="start" fill="#111" stroke="#111" stroke-width="0.18">Occlusion</text>
<line x1="179.40" y1="576.40" x2="165.26" y2="585.21" stroke="#111" stroke-width="1.3" stroke-linecap="butt"/>
<polygon points="161.10,587.80 164.36,582.82 167.01,587.07" fill="#111"/>
<line x1="196.70" y1="578.20" x2="196.70" y2="592.50" stroke="#111" stroke-width="1.3" stroke-linecap="butt"/>
<polygon points="196.70,597.00 194.10,592.00 199.30,592.00" fill="#111"/>
<text x="292.80" y="419.60" font-size="10.5" text-anchor="start" fill="#000" font-weight="bold">F</text>
<line x1="403.60" y1="569.15" x2="403.60" y2="485.90" stroke="#222" stroke-width="0.9" stroke-dasharray="3.5 1.2" stroke-linecap="butt"/>
<line x1="499.88" y1="547.34" x2="499.88" y2="485.90" stroke="#222" stroke-width="0.9" stroke-dasharray="3.5 1.2" stroke-linecap="butt"/>
<line x1="403.15" y1="485.90" x2="500.33" y2="485.90" stroke="#444" stroke-width="1.4" stroke-linecap="butt"/>
<circle cx="447.9" cy="489.7" r="1.25" fill="#111"/>
<circle cx="451.5" cy="489.7" r="1.25" fill="#111"/>
<circle cx="455.1" cy="489.7" r="1.25" fill="#111"/>
<line x1="438.91" y1="592.42" x2="438.91" y2="571.82" stroke="#5cc45c" stroke-width="1.1" stroke-linecap="butt"/>
<line x1="435.61" y1="592.42" x2="442.21" y2="592.42" stroke="#5cc45c" stroke-width="1.1" stroke-linecap="butt"/>
<line x1="435.61" y1="571.82" x2="442.21" y2="571.82" stroke="#5cc45c" stroke-width="1.1" stroke-linecap="butt"/>
<line x1="461.18" y1="580.30" x2="461.18" y2="557.03" stroke="#5cc45c" stroke-width="1.1" stroke-linecap="butt"/>
<line x1="457.88" y1="580.30" x2="464.48" y2="580.30" stroke="#5cc45c" stroke-width="1.1" stroke-linecap="butt"/>
<line x1="457.88" y1="557.03" x2="464.48" y2="557.03" stroke="#5cc45c" stroke-width="1.1" stroke-linecap="butt"/>
<line x1="496.49" y1="570.36" x2="496.49" y2="538.61" stroke="#5cc45c" stroke-width="1.1" stroke-linecap="butt"/>
<line x1="493.19" y1="570.36" x2="499.79" y2="570.36" stroke="#5cc45c" stroke-width="1.1" stroke-linecap="butt"/>
<line x1="493.19" y1="538.61" x2="499.79" y2="538.61" stroke="#5cc45c" stroke-width="1.1" stroke-linecap="butt"/>
<line x1="374.15" y1="603.82" x2="374.15" y2="580.79" stroke="#32639c" stroke-width="1.1" stroke-linecap="butt"/>
<line x1="370.85" y1="603.82" x2="377.45" y2="603.82" stroke="#32639c" stroke-width="1.1" stroke-linecap="butt"/>
<line x1="370.85" y1="580.79" x2="377.45" y2="580.79" stroke="#32639c" stroke-width="1.1" stroke-linecap="butt"/>
<line x1="403.60" y1="585.88" x2="403.60" y2="574.48" stroke="#d2304e" stroke-width="1.1" stroke-linecap="butt"/>
<line x1="400.30" y1="585.88" x2="406.90" y2="585.88" stroke="#d2304e" stroke-width="1.1" stroke-linecap="butt"/>
<line x1="400.30" y1="574.48" x2="406.90" y2="574.48" stroke="#d2304e" stroke-width="1.1" stroke-linecap="butt"/>
<line x1="438.91" y1="585.88" x2="438.91" y2="535.46" stroke="#32639c" stroke-width="1.1" stroke-linecap="butt"/>
<line x1="435.61" y1="585.88" x2="442.21" y2="585.88" stroke="#32639c" stroke-width="1.1" stroke-linecap="butt"/>
<line x1="435.61" y1="535.46" x2="442.21" y2="535.46" stroke="#32639c" stroke-width="1.1" stroke-linecap="butt"/>
<line x1="461.18" y1="547.58" x2="461.18" y2="516.31" stroke="#32639c" stroke-width="1.1" stroke-linecap="butt"/>
<line x1="457.88" y1="547.58" x2="464.48" y2="547.58" stroke="#32639c" stroke-width="1.1" stroke-linecap="butt"/>
<line x1="457.88" y1="516.31" x2="464.48" y2="516.31" stroke="#32639c" stroke-width="1.1" stroke-linecap="butt"/>
<line x1="496.49" y1="550.24" x2="496.49" y2="488.68" stroke="#32639c" stroke-width="1.1" stroke-linecap="butt"/>
<line x1="493.19" y1="550.24" x2="499.79" y2="550.24" stroke="#32639c" stroke-width="1.1" stroke-linecap="butt"/>
<line x1="493.19" y1="488.68" x2="499.79" y2="488.68" stroke="#32639c" stroke-width="1.1" stroke-linecap="butt"/>
<line x1="499.88" y1="554.37" x2="499.88" y2="542.73" stroke="#d2304e" stroke-width="1.1" stroke-linecap="butt"/>
<line x1="496.58" y1="554.37" x2="503.18" y2="554.37" stroke="#d2304e" stroke-width="1.1" stroke-linecap="butt"/>
<line x1="496.58" y1="542.73" x2="503.18" y2="542.73" stroke="#d2304e" stroke-width="1.1" stroke-linecap="butt"/>
<polygon points="374.15,589.91 377.15,592.91 374.15,595.91 371.15,592.91" fill="#1a4f8a"/>
<polygon points="438.91,557.91 441.91,560.91 438.91,563.91 435.91,560.91" fill="#1a4f8a"/>
<polygon points="461.18,528.82 464.18,531.82 461.18,534.82 458.18,531.82" fill="#1a4f8a"/>
<polygon points="496.49,516.70 499.49,519.70 496.49,522.70 493.49,519.70" fill="#1a4f8a"/>
<polygon points="438.91,580.08 441.31,584.40 436.51,584.40" fill="#2fb04a"/>
<polygon points="461.18,567.24 463.58,571.56 458.78,571.56" fill="#2fb04a"/>
<polygon points="496.49,551.97 498.89,556.29 494.09,556.29" fill="#2fb04a"/>
<circle cx="329.60" cy="604.30" r="2.5" fill="#cc1236"/>
<circle cx="403.60" cy="580.30" r="2.5" fill="#cc1236"/>
<rect x="497.58" y="546.49" width="4.60" height="4.60" fill="#b0102c"/>
<polygon points="372.70,448.50 374.80,452.28 370.60,452.28" fill="#2fb04a"/>
<polygon points="372.70,457.00 375.30,459.60 372.70,462.20 370.10,459.60" fill="#1a4f8a"/>
<rect x="370.60" y="466.80" width="4.20" height="4.20" fill="#cc1236"/>
<text x="377.80" y="453.00" font-size="7.0" text-anchor="start" fill="#111" stroke="#111" stroke-width="0.18" textLength="87.50" lengthAdjust="spacingAndGlyphs">Agglomeration rate (<tspan font-style="italic">in silico</tspan>)</text>
<text x="377.80" y="462.10" font-size="7.0" text-anchor="start" fill="#111" stroke="#111" stroke-width="0.18" textLength="76.00" lengthAdjust="spacingAndGlyphs">1/Capture time (<tspan font-style="italic">in silico</tspan>)</text>
<text x="377.80" y="471.20" font-size="7.0" text-anchor="start" fill="#111" stroke="#111" stroke-width="0.18" textLength="79.50" lengthAdjust="spacingAndGlyphs">1/Occlusion time (<tspan font-style="italic">in vitro</tspan>)</text>
<polyline points="322.4,434.6 322.4,609.3 513.2,609.3 513.2,434.6 322.4,434.6" fill="none" stroke="#111" stroke-width="1.2"/>
<line x1="318.90" y1="604.30" x2="322.40" y2="604.30" stroke="#111" stroke-width="0.8" stroke-linecap="butt"/>
<line x1="319.90" y1="599.45" x2="322.40" y2="599.45" stroke="#111" stroke-width="0.8" stroke-linecap="butt"/>
<line x1="319.90" y1="594.60" x2="322.40" y2="594.60" stroke="#111" stroke-width="0.8" stroke-linecap="butt"/>
<line x1="319.90" y1="589.76" x2="322.40" y2="589.76" stroke="#111" stroke-width="0.8" stroke-linecap="butt"/>
<line x1="319.90" y1="584.91" x2="322.40" y2="584.91" stroke="#111" stroke-width="0.8" stroke-linecap="butt"/>
<line x1="318.90" y1="580.06" x2="322.40" y2="580.06" stroke="#111" stroke-width="0.8" stroke-linecap="butt"/>
<line x1="319.90" y1="575.21" x2="322.40" y2="575.21" stroke="#111" stroke-width="0.8" stroke-linecap="butt"/>
<line x1="319.90" y1="570.36" x2="322.40" y2="570.36" stroke="#111" stroke-width="0.8" stroke-linecap="butt"/>
<line x1="319.90" y1="565.52" x2="322.40" y2="565.52" stroke="#111" stroke-width="0.8" stroke-linecap="butt"/>
<line x1="319.90" y1="560.67" x2="322.40" y2="560.67" stroke="#111" stroke-width="0.8" stroke-linecap="butt"/>
<line x1="318.90" y1="555.82" x2="322.40" y2="555.82" stroke="#111" stroke-width="0.8" stroke-linecap="butt"/>
<line x1="319.90" y1="550.97" x2="322.40" y2="550.97" stroke="#111" stroke-width="0.8" stroke-linecap="butt"/>
<line x1="319.90" y1="546.12" x2="322.40" y2="546.12" stroke="#111" stroke-width="0.8" stroke-linecap="butt"/>
<line x1="319.90" y1="541.28" x2="322.40" y2="541.28" stroke="#111" stroke-width="0.8" stroke-linecap="butt"/>
<line x1="319.90" y1="536.43" x2="322.40" y2="536.43" stroke="#111" stroke-width="0.8" stroke-linecap="butt"/>
<line x1="318.90" y1="531.58" x2="322.40" y2="531.58" stroke="#111" stroke-width="0.8" stroke-linecap="butt"/>
<line x1="319.90" y1="526.73" x2="322.40" y2="526.73" stroke="#111" stroke-width="0.8" stroke-linecap="butt"/>
<line x1="319.90" y1="521.88" x2="322.40" y2="521.88" stroke="#111" stroke-width="0.8" stroke-linecap="butt"/>
<line x1="319.90" y1="517.04" x2="322.40" y2="517.04" stroke="#111" stroke-width="0.8" stroke-linecap="butt"/>
<line x1="319.90" y1="512.19" x2="322.40" y2="512.19" stroke="#111" stroke-width="0.8" stroke-linecap="butt"/>
<line x1="318.90" y1="507.34" x2="322.40" y2="507.34" stroke="#111" stroke-width="0.8" stroke-linecap="butt"/>
<line x1="319.90" y1="502.49" x2="322.40" y2="502.49" stroke="#111" stroke-width="0.8" stroke-linecap="butt"/>
<line x1="319.90" y1="497.64" x2="322.40" y2="497.64" stroke="#111" stroke-width="0.8" stroke-linecap="butt"/>
<line x1="319.90" y1="492.80" x2="322.40" y2="492.80" stroke="#111" stroke-width="0.8" stroke-linecap="butt"/>
<line x1="319.90" y1="487.95" x2="322.40" y2="487.95" stroke="#111" stroke-width="0.8" stroke-linecap="butt"/>
<line x1="318.90" y1="483.10" x2="322.40" y2="483.10" stroke="#111" stroke-width="0.8" stroke-linecap="butt"/>
<line x1="319.90" y1="478.25" x2="322.40" y2="478.25" stroke="#111" stroke-width="0.8" stroke-linecap="butt"/>
<line x1="319.90" y1="473.40" x2="322.40" y2="473.40" stroke="#111" stroke-width="0.8" stroke-linecap="butt"/>
<line x1="319.90" y1="468.56" x2="322.40" y2="468.56" stroke="#111" stroke-width="0.8" stroke-linecap="butt"/>
<line x1="319.90" y1="463.71" x2="322.40" y2="463.71" stroke="#111" stroke-width="0.8" stroke-linecap="butt"/>
<line x1="318.90" y1="458.86" x2="322.40" y2="458.86" stroke="#111" stroke-width="0.8" stroke-linecap="butt"/>
<line x1="319.90" y1="454.01" x2="322.40" y2="454.01" stroke="#111" stroke-width="0.8" stroke-linecap="butt"/>
<line x1="319.90" y1="449.16" x2="322.40" y2="449.16" stroke="#111" stroke-width="0.8" stroke-linecap="butt"/>
<line x1="319.90" y1="444.32" x2="322.40" y2="444.32" stroke="#111" stroke-width="0.8" stroke-linecap="butt"/>
<line x1="319.90" y1="439.47" x2="322.40" y2="439.47" stroke="#111" stroke-width="0.8" stroke-linecap="butt"/>
<line x1="318.90" y1="434.62" x2="322.40" y2="434.62" stroke="#111" stroke-width="0.8" stroke-linecap="butt"/>
<text x="316.60" y="606.90" font-size="7.5" text-anchor="end" fill="#111" stroke="#111" stroke-width="0.18">0</text>
<text x="316.60" y="582.66" font-size="7.5" text-anchor="end" fill="#111" stroke="#111" stroke-width="0.18">1</text>
<text x="316.60" y="558.42" font-size="7.5" text-anchor="end" fill="#111" stroke="#111" stroke-width="0.18">2</text>
<text x="316.60" y="534.18" font-size="7.5" text-anchor="end" fill="#111" stroke="#111" stroke-width="0.18">3</text>
<text x="316.60" y="509.94" font-size="7.5" text-anchor="end" fill="#111" stroke="#111" stroke-width="0.18">4</text>
<text x="316.60" y="485.70" font-size="7.5" text-anchor="end" fill="#111" stroke="#111" stroke-width="0.18">5</text>
<text x="316.60" y="461.46" font-size="7.5" text-anchor="end" fill="#111" stroke="#111" stroke-width="0.18">6</text>
<text x="316.60" y="437.22" font-size="7.5" text-anchor="end" fill="#111" stroke="#111" stroke-width="0.18">7</text>
<line x1="326.21" y1="609.30" x2="326.21" y2="611.10" stroke="#111" stroke-width="0.8" stroke-linecap="butt"/>
<line x1="329.60" y1="609.30" x2="329.60" y2="612.30" stroke="#111" stroke-width="0.8" stroke-linecap="butt"/>
<line x1="351.88" y1="609.30" x2="351.88" y2="611.10" stroke="#111" stroke-width="0.8" stroke-linecap="butt"/>
<line x1="364.91" y1="609.30" x2="364.91" y2="611.10" stroke="#111" stroke-width="0.8" stroke-linecap="butt"/>
<line x1="374.15" y1="609.30" x2="374.15" y2="611.10" stroke="#111" stroke-width="0.8" stroke-linecap="butt"/>
<line x1="381.32" y1="609.30" x2="381.32" y2="611.10" stroke="#111" stroke-width="0.8" stroke-linecap="butt"/>
<line x1="387.18" y1="609.30" x2="387.18" y2="611.10" stroke="#111" stroke-width="0.8" stroke-linecap="butt"/>
<line x1="392.14" y1="609.30" x2="392.14" y2="611.10" stroke="#111" stroke-width="0.8" stroke-linecap="butt"/>
<line x1="396.43" y1="609.30" x2="396.43" y2="611.10" stroke="#111" stroke-width="0.8" stroke-linecap="butt"/>
<line x1="400.21" y1="609.30" x2="400.21" y2="611.10" stroke="#111" stroke-width="0.8" stroke-linecap="butt"/>
<line x1="403.60" y1="609.30" x2="403.60" y2="612.30" stroke="#111" stroke-width="0.8" stroke-linecap="butt"/>
<line x1="425.88" y1="609.30" x2="425.88" y2="611.10" stroke="#111" stroke-width="0.8" stroke-linecap="butt"/>
<line x1="438.91" y1="609.30" x2="438.91" y2="611.10" stroke="#111" stroke-width="0.8" stroke-linecap="butt"/>
<line x1="448.15" y1="609.30" x2="448.15" y2="611.10" stroke="#111" stroke-width="0.8" stroke-linecap="butt"/>
<line x1="455.32" y1="609.30" x2="455.32" y2="611.10" stroke="#111" stroke-width="0.8" stroke-linecap="butt"/>
<line x1="461.18" y1="609.30" x2="461.18" y2="611.10" stroke="#111" stroke-width="0.8" stroke-linecap="butt"/>
<line x1="466.14" y1="609.30" x2="466.14" y2="611.10" stroke="#111" stroke-width="0.8" stroke-linecap="butt"/>
<line x1="470.43" y1="609.30" x2="470.43" y2="611.10" stroke="#111" stroke-width="0.8" stroke-linecap="butt"/>
<line x1="474.21" y1="609.30" x2="474.21" y2="611.10" stroke="#111" stroke-width="0.8" stroke-linecap="butt"/>
<line x1="477.60" y1="609.30" x2="477.60" y2="612.30" stroke="#111" stroke-width="0.8" stroke-linecap="butt"/>
<line x1="499.88" y1="609.30" x2="499.88" y2="611.10" stroke="#111" stroke-width="0.8" stroke-linecap="butt"/>
<text x="329.30" y="621.6" font-size="7.8" text-anchor="middle" fill="#111">10<tspan font-size="5.8" dy="-3.4">−1</tspan></text>
<text x="403.30" y="621.6" font-size="7.8" text-anchor="middle" fill="#111">10<tspan font-size="5.8" dy="-3.4">0</tspan></text>
<text x="477.30" y="621.6" font-size="7.8" text-anchor="middle" fill="#111">10<tspan font-size="5.8" dy="-3.4">1</tspan></text>
<text x="417.30" y="634.20" font-size="8.8" text-anchor="middle" fill="#111" stroke="#111" stroke-width="0.28" textLength="88.00" lengthAdjust="spacingAndGlyphs">sVWF concentration (×control)</text>
<text transform="translate(299.90,519.20) rotate(-90)" x="0" y="0" font-size="8.8" text-anchor="middle" fill="#111" stroke="#111" stroke-width="0.28" textLength="99.20" lengthAdjust="spacingAndGlyphs">Normalized SIPA rate enhancement</text>
<rect x="0.5" y="0.5" width="519" height="640" fill="none" stroke="#000" stroke-width="1.2"/>
</svg>
</body></html>
